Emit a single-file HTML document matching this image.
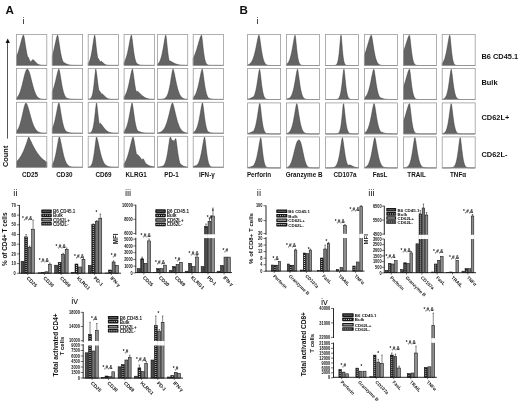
<!DOCTYPE html><html><head><meta charset="utf-8"><style>html,body{margin:0;padding:0;background:#fff;}svg{display:block;font-family:"Liberation Sans", sans-serif;will-change:transform;}</style></head><body>
<svg width="520" height="404" viewBox="0 0 520 404">
<defs></defs>
<rect width="520" height="404" fill="#fff"/>
<text transform="translate(5.60 13.90)" font-size="11.6" font-weight="bold" text-anchor="start" fill="#111">A</text>
<text transform="translate(239.50 13.90)" font-size="11.6" font-weight="bold" text-anchor="start" fill="#111">B</text>
<text transform="translate(22.40 23.80)" font-size="9.3" font-weight="normal" text-anchor="start" fill="#1a1a1a">i</text>
<text transform="translate(256.40 24.20)" font-size="9.3" font-weight="normal" text-anchor="start" fill="#1a1a1a">i</text>
<line x1="7.5" y1="42" x2="7.5" y2="138.6" stroke="#555" stroke-width="1"/>
<path d="M7.7 38.6 L9.9 43.0 L5.6 43.0 Z" fill="#111"/>
<text transform="translate(8.40 167.00) rotate(-90)" font-size="7.4" font-weight="bold" text-anchor="start" fill="#111">Count</text>
<path d="M16.50 65.40 L16.50 56.73 L16.88 55.81 L17.26 54.82 L17.64 53.77 L18.02 52.65 L18.39 51.47 L18.77 50.23 L19.15 48.93 L19.53 47.59 L19.91 46.20 L20.29 44.79 L20.67 43.36 L21.05 41.93 L21.42 40.53 L21.80 39.18 L22.18 37.91 L22.56 36.77 L22.94 35.80 L23.32 35.10 L23.70 35.35 L24.07 36.94 L24.45 39.05 L24.83 41.42 L25.21 43.90 L25.59 46.36 L25.97 48.74 L26.35 50.97 L26.73 53.03 L27.11 54.90 L27.48 56.27 L27.86 56.64 L28.24 57.31 L28.62 58.12 L29.00 58.97 L29.38 59.82 L29.76 60.63 L30.13 61.38 L30.51 62.02 L30.89 61.60 L31.27 61.16 L31.65 60.73 L32.03 60.33 L32.41 59.96 L32.79 59.69 L33.16 59.67 L33.54 59.92 L33.92 60.28 L34.30 60.68 L34.68 61.11 L35.06 61.54 L35.44 61.97 L35.82 62.37 L36.20 62.76 L36.57 63.11 L36.95 63.43 L37.33 63.72 L37.71 63.98 L38.09 64.20 L38.47 64.40 L38.85 64.57 L39.23 64.71 L39.60 64.84 L39.98 64.94 L40.36 65.03 L40.74 65.10 L41.12 65.16 L41.50 65.21 L41.88 65.25 L42.26 65.28 L42.63 65.30 L43.01 65.33 L43.39 65.34 L43.77 65.35 L44.15 65.37 L44.53 65.37 L44.91 65.38 L45.29 65.38 L45.66 65.39 L46.04 65.39 L46.42 65.39 L46.80 65.39 L46.80 65.40 Z" fill="#646464" stroke="#2e2e2e" stroke-width="0.45"/>
<rect x="16.50" y="34.40" width="30.30" height="31.00" fill="none" stroke="#9c9c9c" stroke-width="0.8"/>
<path d="M52.30 65.40 L52.30 55.87 L52.68 54.63 L53.06 53.30 L53.44 51.86 L53.81 50.32 L54.19 48.70 L54.57 47.01 L54.95 45.26 L55.33 43.49 L55.71 41.72 L56.09 40.00 L56.47 38.38 L56.84 36.93 L57.22 35.75 L57.60 35.10 L57.98 36.26 L58.36 38.26 L58.74 40.64 L59.12 43.19 L59.50 45.77 L59.88 48.27 L60.25 50.63 L60.63 52.81 L61.01 54.77 L61.39 56.51 L61.77 58.04 L62.15 59.36 L62.53 60.48 L62.91 61.43 L63.28 62.12 L63.66 62.32 L64.04 62.54 L64.42 62.77 L64.80 62.99 L65.18 63.22 L65.56 63.43 L65.94 63.64 L66.31 63.83 L66.69 64.01 L67.07 64.18 L67.45 64.33 L67.83 64.46 L68.21 64.59 L68.59 64.70 L68.97 64.80 L69.34 64.88 L69.72 64.96 L70.10 65.03 L70.48 65.08 L70.86 65.13 L71.24 65.18 L71.62 65.21 L72.00 65.24 L72.37 65.27 L72.75 65.29 L73.13 65.31 L73.51 65.33 L73.89 65.34 L74.27 65.35 L74.65 65.36 L75.03 65.37 L75.40 65.37 L75.78 65.38 L76.16 65.38 L76.54 65.39 L76.92 65.39 L77.30 65.39 L77.68 65.39 L78.06 65.39 L78.43 65.40 L78.81 65.40 L79.19 65.40 L79.57 65.40 L79.95 65.40 L80.33 65.40 L80.71 65.40 L81.09 65.40 L81.46 65.40 L81.84 65.40 L82.22 65.40 L82.60 65.40 L82.60 65.40 Z" fill="#646464" stroke="#2e2e2e" stroke-width="0.45"/>
<rect x="52.30" y="34.40" width="30.30" height="31.00" fill="none" stroke="#9c9c9c" stroke-width="0.8"/>
<path d="M88.20 65.40 L88.20 63.47 L88.58 62.95 L88.96 62.32 L89.34 61.55 L89.72 60.63 L90.09 59.53 L90.47 58.24 L90.85 56.74 L91.23 55.03 L91.61 53.10 L91.99 50.95 L92.37 48.61 L92.75 46.12 L93.12 43.54 L93.50 40.97 L93.88 38.54 L94.26 36.46 L94.64 35.10 L95.02 36.45 L95.40 39.40 L95.78 42.87 L96.15 46.41 L96.53 49.78 L96.91 52.82 L97.29 55.46 L97.67 57.69 L98.05 58.10 L98.43 58.66 L98.81 59.32 L99.18 60.03 L99.56 60.74 L99.94 61.41 L100.32 61.77 L100.70 61.43 L101.08 61.18 L101.46 61.25 L101.84 61.54 L102.21 61.90 L102.59 62.30 L102.97 62.69 L103.35 63.08 L103.73 63.43 L104.11 63.76 L104.49 64.04 L104.87 64.29 L105.24 64.51 L105.62 64.69 L106.00 64.83 L106.38 64.96 L106.76 65.06 L107.14 65.13 L107.52 65.20 L107.90 65.25 L108.27 65.28 L108.65 65.31 L109.03 65.34 L109.41 65.35 L109.79 65.37 L110.17 65.38 L110.55 65.38 L110.93 65.39 L111.30 65.39 L111.68 65.39 L112.06 65.40 L112.44 65.40 L112.82 65.40 L113.20 65.40 L113.58 65.40 L113.96 65.40 L114.33 65.40 L114.71 65.40 L115.09 65.40 L115.47 65.40 L115.85 65.40 L116.23 65.40 L116.61 65.40 L116.99 65.40 L117.36 65.40 L117.74 65.40 L118.12 65.40 L118.50 65.40 L118.50 65.40 Z" fill="#646464" stroke="#2e2e2e" stroke-width="0.45"/>
<rect x="88.20" y="34.40" width="30.30" height="31.00" fill="none" stroke="#9c9c9c" stroke-width="0.8"/>
<path d="M124.10 65.40 L124.10 62.30 L124.48 61.71 L124.86 61.02 L125.24 60.23 L125.61 59.33 L125.99 58.30 L126.37 57.15 L126.75 55.87 L127.13 54.45 L127.51 52.89 L127.89 51.21 L128.27 49.40 L128.64 47.49 L129.02 45.50 L129.40 43.46 L129.78 41.44 L130.16 39.48 L130.54 37.67 L130.92 36.14 L131.30 35.10 L131.67 35.95 L132.05 38.39 L132.43 41.37 L132.81 44.53 L133.19 47.64 L133.57 50.56 L133.95 53.20 L134.33 55.52 L134.70 57.51 L135.08 59.19 L135.46 60.57 L135.84 61.69 L136.22 62.58 L136.60 63.26 L136.98 63.54 L137.36 63.81 L137.73 64.06 L138.11 64.29 L138.49 64.48 L138.87 64.65 L139.25 64.80 L139.63 64.92 L140.01 65.02 L140.39 65.10 L140.76 65.17 L141.14 65.22 L141.52 65.27 L141.90 65.30 L142.28 65.32 L142.66 65.34 L143.04 65.36 L143.42 65.37 L143.79 65.38 L144.17 65.38 L144.55 65.39 L144.93 65.39 L145.31 65.39 L145.69 65.40 L146.07 65.40 L146.45 65.40 L146.82 65.40 L147.20 65.40 L147.58 65.40 L147.96 65.40 L148.34 65.40 L148.72 65.40 L149.10 65.40 L149.48 65.40 L149.85 65.40 L150.23 65.40 L150.61 65.40 L150.99 65.40 L151.37 65.40 L151.75 65.40 L152.13 65.40 L152.51 65.40 L152.88 65.40 L153.26 65.40 L153.64 65.40 L154.02 65.40 L154.40 65.40 L154.40 65.40 Z" fill="#646464" stroke="#2e2e2e" stroke-width="0.45"/>
<rect x="124.10" y="34.40" width="30.30" height="31.00" fill="none" stroke="#9c9c9c" stroke-width="0.8"/>
<path d="M157.40 65.40 L157.40 64.33 L157.78 64.06 L158.16 63.73 L158.54 63.33 L158.91 62.86 L159.29 62.29 L159.67 61.61 L160.05 60.82 L160.43 59.90 L160.81 58.83 L161.19 57.60 L161.57 56.21 L161.94 54.65 L162.32 52.92 L162.70 51.03 L163.08 48.98 L163.46 46.82 L163.84 44.57 L164.22 42.29 L164.60 40.06 L164.97 38.00 L165.35 36.24 L165.73 35.10 L166.11 36.55 L166.49 39.76 L166.87 43.48 L167.25 47.24 L167.63 50.75 L168.00 53.85 L168.38 56.49 L168.76 58.66 L169.14 60.40 L169.52 60.86 L169.90 60.95 L170.28 61.09 L170.66 61.26 L171.03 61.45 L171.41 61.65 L171.79 61.86 L172.17 62.07 L172.55 62.28 L172.93 62.49 L173.31 62.70 L173.69 62.90 L174.06 63.10 L174.44 63.29 L174.82 63.47 L175.20 63.63 L175.58 63.79 L175.96 63.94 L176.34 64.08 L176.72 64.21 L177.09 64.33 L177.47 64.44 L177.85 64.54 L178.23 64.63 L178.61 64.72 L178.99 64.79 L179.37 64.86 L179.75 64.92 L180.12 64.98 L180.50 65.03 L180.88 65.07 L181.26 65.11 L181.64 65.15 L182.02 65.18 L182.40 65.21 L182.78 65.23 L183.16 65.26 L183.53 65.28 L183.91 65.29 L184.29 65.31 L184.67 65.32 L185.05 65.33 L185.43 65.34 L185.81 65.35 L186.19 65.36 L186.56 65.36 L186.94 65.37 L187.32 65.37 L187.70 65.38 L187.70 65.40 Z" fill="#646464" stroke="#2e2e2e" stroke-width="0.45"/>
<rect x="157.40" y="34.40" width="30.30" height="31.00" fill="none" stroke="#9c9c9c" stroke-width="0.8"/>
<path d="M193.20 65.40 L193.20 58.32 L193.58 57.58 L193.96 56.80 L194.34 55.95 L194.71 55.05 L195.09 54.09 L195.47 53.07 L195.85 51.99 L196.23 50.86 L196.61 49.69 L196.99 48.46 L197.37 47.20 L197.74 45.91 L198.12 44.59 L198.50 43.27 L198.88 41.95 L199.26 40.65 L199.64 39.40 L200.02 38.21 L200.40 37.12 L200.77 36.17 L201.15 35.43 L201.53 35.10 L201.91 37.12 L202.29 40.26 L202.67 43.77 L203.05 47.29 L203.43 50.58 L203.80 53.52 L204.18 56.06 L204.56 58.19 L204.94 59.92 L205.32 61.30 L205.70 62.38 L206.08 63.20 L206.46 63.82 L206.83 64.28 L207.21 64.62 L207.59 64.86 L207.97 65.03 L208.35 65.15 L208.73 65.23 L209.11 65.29 L209.49 65.33 L209.86 65.35 L210.24 65.37 L210.62 65.38 L211.00 65.39 L211.38 65.39 L211.76 65.40 L212.14 65.40 L212.52 65.40 L212.89 65.40 L213.27 65.40 L213.65 65.40 L214.03 65.40 L214.41 65.40 L214.79 65.40 L215.17 65.40 L215.55 65.40 L215.92 65.40 L216.30 65.40 L216.68 65.40 L217.06 65.40 L217.44 65.40 L217.82 65.40 L218.20 65.40 L218.58 65.40 L218.95 65.40 L219.33 65.40 L219.71 65.40 L220.09 65.40 L220.47 65.40 L220.85 65.40 L221.23 65.40 L221.61 65.40 L221.98 65.40 L222.36 65.40 L222.74 65.40 L223.12 65.40 L223.50 65.40 L223.50 65.40 Z" fill="#646464" stroke="#2e2e2e" stroke-width="0.45"/>
<rect x="193.20" y="34.40" width="30.30" height="31.00" fill="none" stroke="#9c9c9c" stroke-width="0.8"/>
<path d="M16.50 99.40 L16.50 97.97 L16.88 97.66 L17.26 97.28 L17.64 96.85 L18.02 96.34 L18.39 95.76 L18.77 95.09 L19.15 94.34 L19.53 93.49 L19.91 92.55 L20.29 91.50 L20.67 90.37 L21.05 89.13 L21.42 87.81 L21.80 86.40 L22.18 84.93 L22.56 83.40 L22.94 81.83 L23.32 80.24 L23.70 78.65 L24.07 77.10 L24.45 75.60 L24.83 74.19 L25.21 72.89 L25.59 71.73 L25.97 70.75 L26.35 69.97 L26.73 69.41 L27.11 69.11 L27.48 69.10 L27.86 69.37 L28.24 69.88 L28.62 70.59 L29.00 71.49 L29.38 72.55 L29.76 73.75 L30.13 75.07 L30.51 76.47 L30.89 77.93 L31.27 79.43 L31.65 80.95 L32.03 82.46 L32.41 83.95 L32.79 85.39 L33.16 86.78 L33.54 88.11 L33.92 89.35 L34.30 90.52 L34.68 91.60 L35.06 92.58 L35.44 93.48 L35.82 94.30 L36.20 95.02 L36.57 95.67 L36.95 96.24 L37.33 96.74 L37.71 97.17 L38.09 97.54 L38.47 97.86 L38.85 98.14 L39.23 98.37 L39.60 98.56 L39.98 98.72 L40.36 98.85 L40.74 98.96 L41.12 99.05 L41.50 99.13 L41.88 99.18 L42.26 99.23 L42.63 99.27 L43.01 99.30 L43.39 99.32 L43.77 99.34 L44.15 99.36 L44.53 99.37 L44.91 99.37 L45.29 99.38 L45.66 99.39 L46.04 99.39 L46.42 99.39 L46.80 99.39 L46.80 99.40 Z" fill="#646464" stroke="#2e2e2e" stroke-width="0.45"/>
<rect x="16.50" y="68.40" width="30.30" height="31.00" fill="none" stroke="#9c9c9c" stroke-width="0.8"/>
<path d="M52.30 99.40 L52.30 91.92 L52.68 90.98 L53.06 89.95 L53.44 88.83 L53.81 87.62 L54.19 86.33 L54.57 84.95 L54.95 83.50 L55.33 81.98 L55.71 80.41 L56.09 78.79 L56.47 77.16 L56.84 75.53 L57.22 73.95 L57.60 72.45 L57.98 71.08 L58.36 69.92 L58.74 69.10 L59.12 69.38 L59.50 70.92 L59.88 72.93 L60.25 75.19 L60.63 77.56 L61.01 79.93 L61.39 82.23 L61.77 84.41 L62.15 86.43 L62.53 88.28 L62.91 89.94 L63.28 91.42 L63.66 92.71 L64.04 93.84 L64.42 94.81 L64.80 95.63 L65.18 96.33 L65.56 96.91 L65.94 97.40 L66.31 97.80 L66.69 98.13 L67.07 98.27 L67.45 98.39 L67.83 98.51 L68.21 98.62 L68.59 98.71 L68.97 98.80 L69.34 98.88 L69.72 98.95 L70.10 99.02 L70.48 99.07 L70.86 99.12 L71.24 99.16 L71.62 99.20 L72.00 99.23 L72.37 99.26 L72.75 99.28 L73.13 99.30 L73.51 99.32 L73.89 99.33 L74.27 99.35 L74.65 99.35 L75.03 99.36 L75.40 99.37 L75.78 99.38 L76.16 99.38 L76.54 99.38 L76.92 99.39 L77.30 99.39 L77.68 99.39 L78.06 99.39 L78.43 99.39 L78.81 99.40 L79.19 99.40 L79.57 99.40 L79.95 99.40 L80.33 99.40 L80.71 99.40 L81.09 99.40 L81.46 99.40 L81.84 99.40 L82.22 99.40 L82.60 99.40 L82.60 99.40 Z" fill="#646464" stroke="#2e2e2e" stroke-width="0.45"/>
<rect x="52.30" y="68.40" width="30.30" height="31.00" fill="none" stroke="#9c9c9c" stroke-width="0.8"/>
<path d="M88.20 99.40 L88.20 99.31 L88.58 99.29 L88.96 99.25 L89.34 99.16 L89.72 99.04 L90.09 98.86 L90.47 98.60 L90.85 98.23 L91.23 97.71 L91.61 96.99 L91.99 96.03 L92.37 94.77 L92.75 93.13 L93.12 91.07 L93.50 88.55 L93.88 85.56 L94.26 82.15 L94.64 78.44 L95.02 74.67 L95.40 71.28 L95.78 69.10 L96.15 70.47 L96.53 73.05 L96.91 76.08 L97.29 79.24 L97.67 82.31 L98.05 85.17 L98.43 87.74 L98.81 89.99 L99.18 90.61 L99.56 91.03 L99.94 91.52 L100.32 92.06 L100.70 92.62 L101.08 93.19 L101.46 93.76 L101.84 94.17 L102.21 93.94 L102.59 94.12 L102.97 94.42 L103.35 94.79 L103.73 95.19 L104.11 95.60 L104.49 96.00 L104.87 96.39 L105.24 96.77 L105.62 97.11 L106.00 97.43 L106.38 97.71 L106.76 97.96 L107.14 98.19 L107.52 98.38 L107.90 98.55 L108.27 98.70 L108.65 98.82 L109.03 98.93 L109.41 99.02 L109.79 99.09 L110.17 99.15 L110.55 99.20 L110.93 99.24 L111.30 99.27 L111.68 99.30 L112.06 99.32 L112.44 99.34 L112.82 99.35 L113.20 99.36 L113.58 99.37 L113.96 99.38 L114.33 99.38 L114.71 99.39 L115.09 99.39 L115.47 99.39 L115.85 99.39 L116.23 99.40 L116.61 99.40 L116.99 99.40 L117.36 99.40 L117.74 99.40 L118.12 99.40 L118.50 99.40 L118.50 99.40 Z" fill="#646464" stroke="#2e2e2e" stroke-width="0.45"/>
<rect x="88.20" y="68.40" width="30.30" height="31.00" fill="none" stroke="#9c9c9c" stroke-width="0.8"/>
<path d="M124.10 99.40 L124.10 96.90 L124.48 96.44 L124.86 95.91 L125.24 95.30 L125.61 94.61 L125.99 93.82 L126.37 92.93 L126.75 91.93 L127.13 90.82 L127.51 89.60 L127.89 88.25 L128.27 86.79 L128.64 85.21 L129.02 83.53 L129.40 81.76 L129.78 79.91 L130.16 78.03 L130.54 76.13 L130.92 74.28 L131.30 72.53 L131.67 70.96 L132.05 69.70 L132.43 69.10 L132.81 70.56 L133.19 72.89 L133.57 75.59 L133.95 78.43 L134.33 81.24 L134.70 83.90 L135.08 86.35 L135.46 88.55 L135.84 90.48 L136.22 91.89 L136.60 91.51 L136.98 91.25 L137.36 91.28 L137.73 91.49 L138.11 91.76 L138.49 92.07 L138.87 92.42 L139.25 92.79 L139.63 93.16 L140.01 93.55 L140.39 93.93 L140.76 94.31 L141.14 94.68 L141.52 95.04 L141.90 95.39 L142.28 95.72 L142.66 96.03 L143.04 96.33 L143.42 96.61 L143.79 96.87 L144.17 97.11 L144.55 97.34 L144.93 97.55 L145.31 97.74 L145.69 97.91 L146.07 98.07 L146.45 98.22 L146.82 98.35 L147.20 98.47 L147.58 98.58 L147.96 98.68 L148.34 98.76 L148.72 98.84 L149.10 98.91 L149.48 98.97 L149.85 99.03 L150.23 99.08 L150.61 99.12 L150.99 99.16 L151.37 99.19 L151.75 99.22 L152.13 99.24 L152.51 99.26 L152.88 99.28 L153.26 99.30 L153.64 99.31 L154.02 99.33 L154.40 99.34 L154.40 99.40 Z" fill="#646464" stroke="#2e2e2e" stroke-width="0.45"/>
<rect x="124.10" y="68.40" width="30.30" height="31.00" fill="none" stroke="#9c9c9c" stroke-width="0.8"/>
<path d="M157.40 99.40 L157.40 99.40 L157.78 99.39 L158.16 99.39 L158.54 99.39 L158.91 99.39 L159.29 99.38 L159.67 99.37 L160.05 99.37 L160.43 99.35 L160.81 99.34 L161.19 99.32 L161.57 99.29 L161.94 99.26 L162.32 99.21 L162.70 99.16 L163.08 99.08 L163.46 98.99 L163.84 98.87 L164.22 98.72 L164.60 98.53 L164.97 98.30 L165.35 98.01 L165.73 97.66 L166.11 97.23 L166.49 96.71 L166.87 96.08 L167.25 95.34 L167.63 94.47 L168.00 93.44 L168.38 92.25 L168.76 90.89 L169.14 89.35 L169.52 87.62 L169.90 85.71 L170.28 83.63 L170.66 81.40 L171.03 79.07 L171.41 76.70 L171.79 74.36 L172.17 72.18 L172.55 70.33 L172.93 69.10 L173.31 69.55 L173.69 70.77 L174.06 72.31 L174.44 74.05 L174.82 75.90 L175.20 77.80 L175.58 79.69 L175.96 81.54 L176.34 83.32 L176.72 85.02 L177.09 86.61 L177.47 88.09 L177.85 89.45 L178.23 90.69 L178.61 91.81 L178.99 92.82 L179.37 93.72 L179.75 94.52 L180.12 95.23 L180.50 95.85 L180.88 96.39 L181.26 96.85 L181.64 97.26 L182.02 97.60 L182.40 97.90 L182.78 98.15 L183.16 98.36 L183.53 98.54 L183.91 98.70 L184.29 98.82 L184.67 98.93 L185.05 99.01 L185.43 99.09 L185.81 99.15 L186.19 99.20 L186.56 99.24 L186.94 99.27 L187.32 99.29 L187.70 99.32 L187.70 99.40 Z" fill="#646464" stroke="#2e2e2e" stroke-width="0.45"/>
<rect x="157.40" y="68.40" width="30.30" height="31.00" fill="none" stroke="#9c9c9c" stroke-width="0.8"/>
<path d="M193.20 99.40 L193.20 97.58 L193.58 97.23 L193.96 96.83 L194.34 96.35 L194.71 95.81 L195.09 95.19 L195.47 94.47 L195.85 93.67 L196.23 92.76 L196.61 91.74 L196.99 90.61 L197.37 89.36 L197.74 87.99 L198.12 86.50 L198.50 84.90 L198.88 83.20 L199.26 81.41 L199.64 79.55 L200.02 77.65 L200.40 75.75 L200.77 73.90 L201.15 72.16 L201.53 70.63 L201.91 69.43 L202.29 69.10 L202.67 70.76 L203.05 73.18 L203.43 75.93 L203.80 78.78 L204.18 81.58 L204.56 84.22 L204.94 86.65 L205.32 88.82 L205.70 90.72 L206.08 92.36 L206.46 93.75 L206.83 94.91 L207.21 95.86 L207.59 96.64 L207.97 97.27 L208.35 97.77 L208.73 98.16 L209.11 98.34 L209.49 98.50 L209.86 98.64 L210.24 98.76 L210.62 98.86 L211.00 98.95 L211.38 99.03 L211.76 99.10 L212.14 99.15 L212.52 99.20 L212.89 99.24 L213.27 99.27 L213.65 99.30 L214.03 99.32 L214.41 99.33 L214.79 99.35 L215.17 99.36 L215.55 99.37 L215.92 99.38 L216.30 99.38 L216.68 99.39 L217.06 99.39 L217.44 99.39 L217.82 99.39 L218.20 99.40 L218.58 99.40 L218.95 99.40 L219.33 99.40 L219.71 99.40 L220.09 99.40 L220.47 99.40 L220.85 99.40 L221.23 99.40 L221.61 99.40 L221.98 99.40 L222.36 99.40 L222.74 99.40 L223.12 99.40 L223.50 99.40 L223.50 99.40 Z" fill="#646464" stroke="#2e2e2e" stroke-width="0.45"/>
<rect x="193.20" y="68.40" width="30.30" height="31.00" fill="none" stroke="#9c9c9c" stroke-width="0.8"/>
<path d="M16.50 133.30 L16.50 131.23 L16.88 130.82 L17.26 130.34 L17.64 129.79 L18.02 129.16 L18.39 128.44 L18.77 127.63 L19.15 126.73 L19.53 125.71 L19.91 124.60 L20.29 123.38 L20.67 122.06 L21.05 120.64 L21.42 119.13 L21.80 117.54 L22.18 115.90 L22.56 114.21 L22.94 112.50 L23.32 110.81 L23.70 109.17 L24.07 107.61 L24.45 106.18 L24.83 104.94 L25.21 103.93 L25.59 103.23 L25.97 103.00 L26.35 103.31 L26.73 103.90 L27.11 104.70 L27.48 105.66 L27.86 106.76 L28.24 107.97 L28.62 109.26 L29.00 110.60 L29.38 111.98 L29.76 113.38 L30.13 114.77 L30.51 116.14 L30.89 117.49 L31.27 118.79 L31.65 120.05 L32.03 121.25 L32.41 122.38 L32.79 123.45 L33.16 124.45 L33.54 125.38 L33.92 126.24 L34.30 127.04 L34.68 127.76 L35.06 128.42 L35.44 129.01 L35.82 129.55 L36.20 130.03 L36.57 130.46 L36.95 130.84 L37.33 131.18 L37.71 131.48 L38.09 131.74 L38.47 131.97 L38.85 132.17 L39.23 132.34 L39.60 132.49 L39.98 132.62 L40.36 132.73 L40.74 132.82 L41.12 132.90 L41.50 132.97 L41.88 133.02 L42.26 133.07 L42.63 133.11 L43.01 133.15 L43.39 133.17 L43.77 133.20 L44.15 133.22 L44.53 133.23 L44.91 133.25 L45.29 133.26 L45.66 133.26 L46.04 133.27 L46.42 133.28 L46.80 133.28 L46.80 133.30 Z" fill="#646464" stroke="#2e2e2e" stroke-width="0.45"/>
<rect x="16.50" y="102.30" width="30.30" height="31.00" fill="none" stroke="#9c9c9c" stroke-width="0.8"/>
<path d="M52.30 133.30 L52.30 128.56 L52.68 127.75 L53.06 126.83 L53.44 125.80 L53.81 124.64 L54.19 123.36 L54.57 121.95 L54.95 120.41 L55.33 118.76 L55.71 116.99 L56.09 115.12 L56.47 113.19 L56.84 111.22 L57.22 109.26 L57.60 107.36 L57.98 105.60 L58.36 104.09 L58.74 103.00 L59.12 103.23 L59.50 104.77 L59.88 106.78 L60.25 109.05 L60.63 111.42 L61.01 113.80 L61.39 116.10 L61.77 118.28 L62.15 120.31 L62.53 122.16 L62.91 123.82 L63.28 125.30 L63.66 126.60 L64.04 127.73 L64.42 128.70 L64.80 129.53 L65.18 130.23 L65.56 130.81 L65.94 131.30 L66.31 131.53 L66.69 131.71 L67.07 131.88 L67.45 132.04 L67.83 132.18 L68.21 132.32 L68.59 132.44 L68.97 132.55 L69.34 132.65 L69.72 132.74 L70.10 132.82 L70.48 132.89 L70.86 132.95 L71.24 133.00 L71.62 133.05 L72.00 133.09 L72.37 133.12 L72.75 133.15 L73.13 133.18 L73.51 133.20 L73.89 133.22 L74.27 133.23 L74.65 133.24 L75.03 133.25 L75.40 133.26 L75.78 133.27 L76.16 133.28 L76.54 133.28 L76.92 133.28 L77.30 133.29 L77.68 133.29 L78.06 133.29 L78.43 133.29 L78.81 133.29 L79.19 133.30 L79.57 133.30 L79.95 133.30 L80.33 133.30 L80.71 133.30 L81.09 133.30 L81.46 133.30 L81.84 133.30 L82.22 133.30 L82.60 133.30 L82.60 133.30 Z" fill="#646464" stroke="#2e2e2e" stroke-width="0.45"/>
<rect x="52.30" y="102.30" width="30.30" height="31.00" fill="none" stroke="#9c9c9c" stroke-width="0.8"/>
<path d="M88.20 133.30 L88.20 133.17 L88.58 133.14 L88.96 133.10 L89.34 133.06 L89.72 133.01 L90.09 132.91 L90.47 132.73 L90.85 132.47 L91.23 132.12 L91.61 131.63 L91.99 130.98 L92.37 130.11 L92.75 128.99 L93.12 127.55 L93.50 125.75 L93.88 123.56 L94.26 120.95 L94.64 117.94 L95.02 114.59 L95.40 111.06 L95.78 107.58 L96.15 104.57 L96.53 103.00 L96.91 105.02 L97.29 108.16 L97.67 111.67 L98.05 115.19 L98.43 118.48 L98.81 121.42 L99.18 123.96 L99.56 123.80 L99.94 123.42 L100.32 123.32 L100.70 123.57 L101.08 123.94 L101.46 124.39 L101.84 124.88 L102.21 125.40 L102.59 125.93 L102.97 126.47 L103.35 127.00 L103.73 127.52 L104.11 128.02 L104.49 128.50 L104.87 128.95 L105.24 129.38 L105.62 129.78 L106.00 130.15 L106.38 130.50 L106.76 130.81 L107.14 131.10 L107.52 131.36 L107.90 131.59 L108.27 131.80 L108.65 131.99 L109.03 132.16 L109.41 132.31 L109.79 132.44 L110.17 132.56 L110.55 132.66 L110.93 132.75 L111.30 132.83 L111.68 132.90 L112.06 132.96 L112.44 133.01 L112.82 133.06 L113.20 133.09 L113.58 133.13 L113.96 133.15 L114.33 133.18 L114.71 133.20 L115.09 133.21 L115.47 133.23 L115.85 133.24 L116.23 133.25 L116.61 133.26 L116.99 133.27 L117.36 133.27 L117.74 133.28 L118.12 133.28 L118.50 133.28 L118.50 133.30 Z" fill="#646464" stroke="#2e2e2e" stroke-width="0.45"/>
<rect x="88.20" y="102.30" width="30.30" height="31.00" fill="none" stroke="#9c9c9c" stroke-width="0.8"/>
<path d="M124.10 133.30 L124.10 131.39 L124.48 130.99 L124.86 130.50 L125.24 129.94 L125.61 129.27 L125.99 128.51 L126.37 127.62 L126.75 126.62 L127.13 125.47 L127.51 124.19 L127.89 122.76 L128.27 121.19 L128.64 119.47 L129.02 117.62 L129.40 115.65 L129.78 113.60 L130.16 111.50 L130.54 109.40 L130.92 107.38 L131.30 105.52 L131.67 103.97 L132.05 103.00 L132.43 104.06 L132.81 106.26 L133.19 108.91 L133.57 111.74 L133.95 114.56 L134.33 117.26 L134.70 119.76 L135.08 122.01 L135.46 124.00 L135.84 125.73 L136.22 127.20 L136.60 128.44 L136.98 129.46 L137.36 130.29 L137.73 130.97 L138.11 131.12 L138.49 131.26 L138.87 131.40 L139.25 131.55 L139.63 131.71 L140.01 131.85 L140.39 132.00 L140.76 132.13 L141.14 132.26 L141.52 132.38 L141.90 132.49 L142.28 132.59 L142.66 132.68 L143.04 132.76 L143.42 132.84 L143.79 132.90 L144.17 132.96 L144.55 133.01 L144.93 133.05 L145.31 133.09 L145.69 133.12 L146.07 133.15 L146.45 133.18 L146.82 133.20 L147.20 133.22 L147.58 133.23 L147.96 133.24 L148.34 133.25 L148.72 133.26 L149.10 133.27 L149.48 133.27 L149.85 133.28 L150.23 133.28 L150.61 133.29 L150.99 133.29 L151.37 133.29 L151.75 133.29 L152.13 133.29 L152.51 133.30 L152.88 133.30 L153.26 133.30 L153.64 133.30 L154.02 133.30 L154.40 133.30 L154.40 133.30 Z" fill="#646464" stroke="#2e2e2e" stroke-width="0.45"/>
<rect x="124.10" y="102.30" width="30.30" height="31.00" fill="none" stroke="#9c9c9c" stroke-width="0.8"/>
<path d="M157.40 133.30 L157.40 133.00 L157.78 132.94 L158.16 132.87 L158.54 132.80 L158.91 132.70 L159.29 132.60 L159.67 132.47 L160.05 132.33 L160.43 132.17 L160.81 131.98 L161.19 131.76 L161.57 131.51 L161.94 131.22 L162.32 130.90 L162.70 130.53 L163.08 130.12 L163.46 129.66 L163.84 129.14 L164.22 128.56 L164.60 127.91 L164.97 127.20 L165.35 126.41 L165.73 125.54 L166.11 124.60 L166.49 123.57 L166.87 122.47 L167.25 121.28 L167.63 120.00 L168.00 118.65 L168.38 117.23 L168.76 115.75 L169.14 114.22 L169.52 112.65 L169.90 111.06 L170.28 109.48 L170.66 107.94 L171.03 106.48 L171.41 105.13 L171.79 103.98 L172.17 103.12 L172.55 103.00 L172.93 103.81 L173.31 104.96 L173.69 106.32 L174.06 107.82 L174.44 109.40 L174.82 111.02 L175.20 112.65 L175.58 114.27 L175.96 115.84 L176.34 117.36 L176.72 118.82 L177.09 120.19 L177.47 121.49 L177.85 122.70 L178.23 123.82 L178.61 124.85 L178.99 125.80 L179.37 126.67 L179.75 127.45 L180.12 128.16 L180.50 128.80 L180.88 129.37 L181.26 129.88 L181.64 130.33 L182.02 130.73 L182.40 131.08 L182.78 131.39 L183.16 131.66 L183.53 131.90 L183.91 132.10 L184.29 132.28 L184.67 132.44 L185.05 132.57 L185.43 132.68 L185.81 132.78 L186.19 132.86 L186.56 132.93 L186.94 132.99 L187.32 133.04 L187.70 133.09 L187.70 133.30 Z" fill="#646464" stroke="#2e2e2e" stroke-width="0.45"/>
<rect x="157.40" y="102.30" width="30.30" height="31.00" fill="none" stroke="#9c9c9c" stroke-width="0.8"/>
<path d="M193.20 133.30 L193.20 132.52 L193.58 132.32 L193.96 132.09 L194.34 131.80 L194.71 131.45 L195.09 131.04 L195.47 130.55 L195.85 129.96 L196.23 129.28 L196.61 128.48 L196.99 127.55 L197.37 126.49 L197.74 125.28 L198.12 123.92 L198.50 122.39 L198.88 120.71 L199.26 118.88 L199.64 116.90 L200.02 114.81 L200.40 112.63 L200.77 110.42 L201.15 108.24 L201.53 106.18 L201.91 104.36 L202.29 103.00 L202.67 103.09 L203.05 105.29 L203.43 108.19 L203.80 111.35 L204.18 114.52 L204.56 117.53 L204.94 120.28 L205.32 122.71 L205.70 124.81 L206.08 126.59 L206.46 128.06 L206.83 129.26 L207.21 130.22 L207.59 130.98 L207.97 131.57 L208.35 131.88 L208.73 132.06 L209.11 132.24 L209.49 132.39 L209.86 132.53 L210.24 132.65 L210.62 132.76 L211.00 132.85 L211.38 132.93 L211.76 132.99 L212.14 133.05 L212.52 133.10 L212.89 133.14 L213.27 133.17 L213.65 133.19 L214.03 133.22 L214.41 133.23 L214.79 133.25 L215.17 133.26 L215.55 133.27 L215.92 133.28 L216.30 133.28 L216.68 133.29 L217.06 133.29 L217.44 133.29 L217.82 133.29 L218.20 133.30 L218.58 133.30 L218.95 133.30 L219.33 133.30 L219.71 133.30 L220.09 133.30 L220.47 133.30 L220.85 133.30 L221.23 133.30 L221.61 133.30 L221.98 133.30 L222.36 133.30 L222.74 133.30 L223.12 133.30 L223.50 133.30 L223.50 133.30 Z" fill="#646464" stroke="#2e2e2e" stroke-width="0.45"/>
<rect x="193.20" y="102.30" width="30.30" height="31.00" fill="none" stroke="#9c9c9c" stroke-width="0.8"/>
<path d="M16.50 167.30 L16.50 161.62 L16.88 161.27 L17.26 160.90 L17.64 160.51 L18.02 160.10 L18.39 159.66 L18.77 159.20 L19.15 158.72 L19.53 158.21 L19.91 157.68 L20.29 157.11 L20.67 156.52 L21.05 155.90 L21.42 155.25 L21.80 154.56 L22.18 153.84 L22.56 153.09 L22.94 152.31 L23.32 151.48 L23.70 150.63 L24.07 149.74 L24.45 148.81 L24.83 147.84 L25.21 146.84 L25.59 145.81 L25.97 144.74 L26.35 143.65 L26.73 142.53 L27.11 141.39 L27.48 140.25 L27.86 139.10 L28.24 138.00 L28.62 137.00 L29.00 137.32 L29.38 138.05 L29.76 138.83 L30.13 139.63 L30.51 140.44 L30.89 141.25 L31.27 142.06 L31.65 142.85 L32.03 143.64 L32.41 144.42 L32.79 145.18 L33.16 145.93 L33.54 146.66 L33.92 147.37 L34.30 148.07 L34.68 148.74 L35.06 149.41 L35.44 150.05 L35.82 150.67 L36.20 151.28 L36.57 151.87 L36.95 152.44 L37.33 153.00 L37.71 153.53 L38.09 154.05 L38.47 154.56 L38.85 155.04 L39.23 155.51 L39.60 155.97 L39.98 156.41 L40.36 156.83 L40.74 157.24 L41.12 157.64 L41.50 158.02 L41.88 158.39 L42.26 158.75 L42.63 159.09 L43.01 159.42 L43.39 159.74 L43.77 160.04 L44.15 160.34 L44.53 160.62 L44.91 160.90 L45.29 161.16 L45.66 161.41 L46.04 161.66 L46.42 161.89 L46.80 162.12 L46.80 167.30 Z" fill="#646464" stroke="#2e2e2e" stroke-width="0.45"/>
<rect x="16.50" y="136.30" width="30.30" height="31.00" fill="none" stroke="#9c9c9c" stroke-width="0.8"/>
<path d="M52.30 167.30 L52.30 164.52 L52.68 163.93 L53.06 163.24 L53.44 162.43 L53.81 161.50 L54.19 160.43 L54.57 159.22 L54.95 157.84 L55.33 156.31 L55.71 154.63 L56.09 152.79 L56.47 150.81 L56.84 148.71 L57.22 146.54 L57.60 144.33 L57.98 142.17 L58.36 140.13 L58.74 138.34 L59.12 137.03 L59.50 137.00 L59.88 138.08 L60.25 139.56 L60.63 141.26 L61.01 143.10 L61.39 145.00 L61.77 146.91 L62.15 148.79 L62.53 150.60 L62.91 152.34 L63.28 153.97 L63.66 155.49 L64.04 156.90 L64.42 158.18 L64.80 159.34 L65.18 160.39 L65.56 161.33 L65.94 162.17 L66.31 162.90 L66.69 163.55 L67.07 164.12 L67.45 164.61 L67.83 165.03 L68.21 165.40 L68.59 165.71 L68.97 165.97 L69.34 166.20 L69.72 166.39 L70.10 166.55 L70.48 166.68 L70.86 166.79 L71.24 166.89 L71.62 166.96 L72.00 167.03 L72.37 167.08 L72.75 167.12 L73.13 167.16 L73.51 167.19 L73.89 167.21 L74.27 167.23 L74.65 167.24 L75.03 167.25 L75.40 167.26 L75.78 167.27 L76.16 167.28 L76.54 167.28 L76.92 167.29 L77.30 167.29 L77.68 167.29 L78.06 167.29 L78.43 167.30 L78.81 167.30 L79.19 167.30 L79.57 167.30 L79.95 167.30 L80.33 167.30 L80.71 167.30 L81.09 167.30 L81.46 167.30 L81.84 167.30 L82.22 167.30 L82.60 167.30 L82.60 167.30 Z" fill="#646464" stroke="#2e2e2e" stroke-width="0.45"/>
<rect x="52.30" y="136.30" width="30.30" height="31.00" fill="none" stroke="#9c9c9c" stroke-width="0.8"/>
<path d="M88.20 167.30 L88.20 167.16 L88.58 167.10 L88.96 167.01 L89.34 166.89 L89.72 166.73 L90.09 166.51 L90.47 166.21 L90.85 165.81 L91.23 165.30 L91.61 164.63 L91.99 163.78 L92.37 162.71 L92.75 161.39 L93.12 159.78 L93.50 157.85 L93.88 155.60 L94.26 153.02 L94.64 150.16 L95.02 147.09 L95.40 143.94 L95.78 140.91 L96.15 138.34 L96.53 137.00 L96.91 137.73 L97.29 138.94 L97.67 140.40 L98.05 142.04 L98.43 143.77 L98.81 145.54 L99.18 147.31 L99.56 149.06 L99.94 150.75 L100.32 152.36 L100.70 153.89 L101.08 155.32 L101.46 156.65 L101.84 157.87 L102.21 158.99 L102.59 160.01 L102.97 160.93 L103.35 161.76 L103.73 162.50 L104.11 163.15 L104.49 163.73 L104.87 164.24 L105.24 164.69 L105.62 165.00 L106.00 165.28 L106.38 165.53 L106.76 165.76 L107.14 165.96 L107.52 166.14 L107.90 166.31 L108.27 166.45 L108.65 166.58 L109.03 166.68 L109.41 166.78 L109.79 166.86 L110.17 166.93 L110.55 166.99 L110.93 167.04 L111.30 167.09 L111.68 167.12 L112.06 167.16 L112.44 167.18 L112.82 167.20 L113.20 167.22 L113.58 167.24 L113.96 167.25 L114.33 167.26 L114.71 167.27 L115.09 167.27 L115.47 167.28 L115.85 167.28 L116.23 167.29 L116.61 167.29 L116.99 167.29 L117.36 167.29 L117.74 167.29 L118.12 167.30 L118.50 167.30 L118.50 167.30 Z" fill="#646464" stroke="#2e2e2e" stroke-width="0.45"/>
<rect x="88.20" y="136.30" width="30.30" height="31.00" fill="none" stroke="#9c9c9c" stroke-width="0.8"/>
<path d="M124.10 167.30 L124.10 163.74 L124.48 163.23 L124.86 162.66 L125.24 162.02 L125.61 161.32 L125.99 160.55 L126.37 159.69 L126.75 158.76 L127.13 157.75 L127.51 156.66 L127.89 155.48 L128.27 154.22 L128.64 152.89 L129.02 151.48 L129.40 150.01 L129.78 148.49 L130.16 146.92 L130.54 145.34 L130.92 143.76 L131.30 142.21 L131.67 140.73 L132.05 139.37 L132.43 138.18 L132.81 137.26 L133.19 137.00 L133.57 138.20 L133.95 139.98 L134.33 142.06 L134.70 144.29 L135.08 146.57 L135.46 148.82 L135.84 150.99 L136.22 153.03 L136.60 154.91 L136.98 154.58 L137.36 154.61 L137.73 154.84 L138.11 155.14 L138.49 155.51 L138.87 155.91 L139.25 156.34 L139.63 156.79 L140.01 157.26 L140.39 157.73 L140.76 158.21 L141.14 158.69 L141.52 159.17 L141.90 159.63 L142.28 159.42 L142.66 159.04 L143.04 158.80 L143.42 159.07 L143.79 159.68 L144.17 160.42 L144.55 161.21 L144.93 162.01 L145.31 162.77 L145.69 163.47 L146.07 163.83 L146.45 164.11 L146.82 164.37 L147.20 164.61 L147.58 164.84 L147.96 165.05 L148.34 165.25 L148.72 165.43 L149.10 165.60 L149.48 165.76 L149.85 165.90 L150.23 166.03 L150.61 166.15 L150.99 166.26 L151.37 166.37 L151.75 166.46 L152.13 166.54 L152.51 166.62 L152.88 166.69 L153.26 166.75 L153.64 166.81 L154.02 166.86 L154.40 166.91 L154.40 167.30 Z" fill="#646464" stroke="#2e2e2e" stroke-width="0.45"/>
<rect x="124.10" y="136.30" width="30.30" height="31.00" fill="none" stroke="#9c9c9c" stroke-width="0.8"/>
<path d="M157.40 167.30 L157.40 167.16 L157.78 167.13 L158.16 167.10 L158.54 167.07 L158.91 167.03 L159.29 166.98 L159.67 166.93 L160.05 166.87 L160.43 166.80 L160.81 166.72 L161.19 166.62 L161.57 166.52 L161.94 166.39 L162.32 166.26 L162.70 166.10 L163.08 165.92 L163.46 165.72 L163.84 165.32 L164.22 164.80 L164.60 164.15 L164.97 163.37 L165.35 162.43 L165.73 161.32 L166.11 160.01 L166.49 158.50 L166.87 156.76 L167.25 154.81 L167.63 152.64 L168.00 150.29 L168.38 147.80 L168.76 145.22 L169.14 142.66 L169.52 140.26 L169.90 138.24 L170.28 137.00 L170.66 137.42 L171.03 138.25 L171.41 139.31 L171.79 140.51 L172.17 141.73 L172.55 140.60 L172.93 140.03 L173.31 140.75 L173.69 141.93 L174.06 142.31 L174.44 141.12 L174.82 140.06 L175.20 139.18 L175.58 138.58 L175.96 139.34 L176.34 141.61 L176.72 144.42 L177.09 147.41 L177.47 150.36 L177.85 153.13 L178.23 155.65 L178.61 157.86 L178.99 159.76 L179.37 161.36 L179.75 162.67 L180.12 163.54 L180.50 163.98 L180.88 164.36 L181.26 164.71 L181.64 165.03 L182.02 165.30 L182.40 165.55 L182.78 165.77 L183.16 165.97 L183.53 166.14 L183.91 166.29 L184.29 166.43 L184.67 166.55 L185.05 166.65 L185.43 166.74 L185.81 166.82 L186.19 166.89 L186.56 166.95 L186.94 167.00 L187.32 167.04 L187.70 167.08 L187.70 167.30 Z" fill="#646464" stroke="#2e2e2e" stroke-width="0.45"/>
<rect x="157.40" y="136.30" width="30.30" height="31.00" fill="none" stroke="#9c9c9c" stroke-width="0.8"/>
<path d="M193.20 167.30 L193.20 166.54 L193.58 166.44 L193.96 166.33 L194.34 166.20 L194.71 166.07 L195.09 165.93 L195.47 165.78 L195.85 165.63 L196.23 165.48 L196.61 165.33 L196.99 165.19 L197.37 164.85 L197.74 164.33 L198.12 163.71 L198.50 162.98 L198.88 162.13 L199.26 161.16 L199.64 160.04 L200.02 158.78 L200.40 157.36 L200.77 155.78 L201.15 154.05 L201.53 152.17 L201.91 150.16 L202.29 148.05 L202.67 145.87 L203.05 143.69 L203.43 141.57 L203.80 139.63 L204.18 138.01 L204.56 137.00 L204.94 138.42 L205.32 141.18 L205.70 144.42 L206.08 147.76 L206.46 150.97 L206.83 153.91 L207.21 156.52 L207.59 158.76 L207.97 160.63 L208.35 162.17 L208.73 163.41 L209.11 164.39 L209.49 165.14 L209.86 165.72 L210.24 166.16 L210.62 166.49 L211.00 166.72 L211.38 166.90 L211.76 167.02 L212.14 167.11 L212.52 167.17 L212.89 167.21 L213.27 167.24 L213.65 167.26 L214.03 167.27 L214.41 167.28 L214.79 167.29 L215.17 167.29 L215.55 167.30 L215.92 167.30 L216.30 167.30 L216.68 167.30 L217.06 167.30 L217.44 167.30 L217.82 167.30 L218.20 167.30 L218.58 167.30 L218.95 167.30 L219.33 167.30 L219.71 167.30 L220.09 167.30 L220.47 167.30 L220.85 167.30 L221.23 167.30 L221.61 167.30 L221.98 167.30 L222.36 167.30 L222.74 167.30 L223.12 167.30 L223.50 167.30 L223.50 167.30 Z" fill="#646464" stroke="#2e2e2e" stroke-width="0.45"/>
<rect x="193.20" y="136.30" width="30.30" height="31.00" fill="none" stroke="#9c9c9c" stroke-width="0.8"/>
<path d="M247.60 65.50 L247.60 64.95 L248.01 64.82 L248.42 64.66 L248.84 64.46 L249.25 64.23 L249.66 63.94 L250.07 63.61 L250.49 63.21 L250.90 62.74 L251.31 62.19 L251.72 61.55 L252.14 60.81 L252.55 59.96 L252.96 59.00 L253.38 57.90 L253.79 56.66 L254.20 55.29 L254.61 53.77 L255.03 52.12 L255.44 50.33 L255.85 48.42 L256.26 46.42 L256.68 44.36 L257.09 42.27 L257.50 40.23 L257.91 38.30 L258.32 36.61 L258.74 35.31 L259.15 35.20 L259.56 37.10 L259.98 39.71 L260.39 42.62 L260.80 45.60 L261.21 48.47 L261.62 51.16 L262.04 53.59 L262.45 55.73 L262.86 57.59 L263.27 59.17 L263.69 60.49 L264.10 61.57 L264.51 62.45 L264.93 63.16 L265.34 63.72 L265.75 64.16 L266.16 64.50 L266.57 64.76 L266.99 64.95 L267.40 65.10 L267.81 65.21 L268.23 65.29 L268.64 65.35 L269.05 65.40 L269.46 65.43 L269.88 65.45 L270.29 65.46 L270.70 65.48 L271.11 65.48 L271.52 65.49 L271.94 65.49 L272.35 65.49 L272.76 65.50 L273.18 65.50 L273.59 65.50 L274.00 65.50 L274.41 65.50 L274.82 65.50 L275.24 65.50 L275.65 65.50 L276.06 65.50 L276.48 65.50 L276.89 65.50 L277.30 65.50 L277.71 65.50 L278.12 65.50 L278.54 65.50 L278.95 65.50 L279.36 65.50 L279.77 65.50 L280.19 65.50 L280.60 65.50 L280.60 65.50 Z" fill="#646464" stroke="#2e2e2e" stroke-width="0.45"/>
<rect x="247.60" y="34.50" width="33.00" height="31.00" fill="none" stroke="#9c9c9c" stroke-width="0.8"/>
<path d="M286.40 65.50 L286.40 64.40 L286.81 64.12 L287.22 63.76 L287.64 63.33 L288.05 62.81 L288.46 62.18 L288.88 61.44 L289.29 60.55 L289.70 59.52 L290.11 58.32 L290.52 56.95 L290.94 55.39 L291.35 53.65 L291.76 51.72 L292.17 49.63 L292.59 47.39 L293.00 45.04 L293.41 42.66 L293.82 40.33 L294.24 38.16 L294.65 36.33 L295.06 35.20 L295.47 37.16 L295.89 40.83 L296.30 44.93 L296.71 48.93 L297.12 52.55 L297.54 55.64 L297.95 58.18 L298.36 60.18 L298.77 61.71 L299.19 62.86 L299.60 63.69 L300.01 64.28 L300.42 64.69 L300.84 64.98 L301.25 65.16 L301.66 65.29 L302.07 65.37 L302.49 65.42 L302.90 65.45 L303.31 65.47 L303.72 65.48 L304.14 65.49 L304.55 65.49 L304.96 65.50 L305.38 65.50 L305.79 65.50 L306.20 65.50 L306.61 65.50 L307.02 65.50 L307.44 65.50 L307.85 65.50 L308.26 65.50 L308.67 65.50 L309.09 65.50 L309.50 65.50 L309.91 65.50 L310.32 65.50 L310.74 65.50 L311.15 65.50 L311.56 65.50 L311.97 65.50 L312.39 65.50 L312.80 65.50 L313.21 65.50 L313.62 65.50 L314.04 65.50 L314.45 65.50 L314.86 65.50 L315.27 65.50 L315.69 65.50 L316.10 65.50 L316.51 65.50 L316.92 65.50 L317.34 65.50 L317.75 65.50 L318.16 65.50 L318.57 65.50 L318.99 65.50 L319.40 65.50 L319.40 65.50 Z" fill="#646464" stroke="#2e2e2e" stroke-width="0.45"/>
<rect x="286.40" y="34.50" width="33.00" height="31.00" fill="none" stroke="#9c9c9c" stroke-width="0.8"/>
<path d="M325.50 65.50 L325.50 65.50 L325.91 65.50 L326.32 65.50 L326.74 65.50 L327.15 65.50 L327.56 65.50 L327.98 65.50 L328.39 65.50 L328.80 65.50 L329.21 65.50 L329.62 65.50 L330.04 65.50 L330.45 65.50 L330.86 65.50 L331.27 65.50 L331.69 65.50 L332.10 65.50 L332.51 65.50 L332.93 65.49 L333.34 65.49 L333.75 65.48 L334.16 65.46 L334.57 65.42 L334.99 65.36 L335.40 65.26 L335.81 65.09 L336.23 64.81 L336.64 64.39 L337.05 63.74 L337.46 62.77 L337.88 61.37 L338.29 59.41 L338.70 56.79 L339.11 53.41 L339.52 49.29 L339.94 44.58 L340.35 39.72 L340.76 35.57 L341.18 35.20 L341.59 39.57 L342.00 44.83 L342.41 49.88 L342.82 54.21 L343.24 57.65 L343.65 60.24 L344.06 62.08 L344.48 63.35 L344.89 64.18 L345.30 64.71 L345.71 65.04 L346.12 65.24 L346.54 65.36 L346.95 65.42 L347.36 65.46 L347.77 65.48 L348.19 65.49 L348.60 65.49 L349.01 65.50 L349.43 65.50 L349.84 65.50 L350.25 65.50 L350.66 65.50 L351.07 65.50 L351.49 65.50 L351.90 65.50 L352.31 65.50 L352.73 65.50 L353.14 65.50 L353.55 65.50 L353.96 65.50 L354.38 65.50 L354.79 65.50 L355.20 65.50 L355.61 65.50 L356.02 65.50 L356.44 65.50 L356.85 65.50 L357.26 65.50 L357.68 65.50 L358.09 65.50 L358.50 65.50 L358.50 65.50 Z" fill="#646464" stroke="#2e2e2e" stroke-width="0.45"/>
<rect x="325.50" y="34.50" width="33.00" height="31.00" fill="none" stroke="#9c9c9c" stroke-width="0.8"/>
<path d="M364.40 65.50 L364.40 55.00 L364.81 53.96 L365.22 52.86 L365.64 51.70 L366.05 50.47 L366.46 49.19 L366.88 47.87 L367.29 46.50 L367.70 45.10 L368.11 43.69 L368.52 42.27 L368.94 40.88 L369.35 39.53 L369.76 38.25 L370.17 37.09 L370.59 36.08 L371.00 35.31 L371.41 35.20 L371.82 36.77 L372.24 39.03 L372.65 41.62 L373.06 44.32 L373.47 46.99 L373.89 49.55 L374.30 51.92 L374.71 54.07 L375.12 55.98 L375.54 57.65 L375.95 59.09 L376.36 60.32 L376.77 61.34 L377.19 62.20 L377.60 62.89 L378.01 63.46 L378.42 63.92 L378.84 64.28 L379.25 64.57 L379.66 64.79 L380.07 64.97 L380.49 65.10 L380.90 65.20 L381.31 65.28 L381.72 65.34 L382.14 65.38 L382.55 65.41 L382.96 65.44 L383.38 65.46 L383.79 65.47 L384.20 65.48 L384.61 65.48 L385.02 65.49 L385.44 65.49 L385.85 65.49 L386.26 65.50 L386.67 65.50 L387.09 65.50 L387.50 65.50 L387.91 65.50 L388.32 65.50 L388.74 65.50 L389.15 65.50 L389.56 65.50 L389.97 65.50 L390.39 65.50 L390.80 65.50 L391.21 65.50 L391.62 65.50 L392.04 65.50 L392.45 65.50 L392.86 65.50 L393.27 65.50 L393.69 65.50 L394.10 65.50 L394.51 65.50 L394.92 65.50 L395.34 65.50 L395.75 65.50 L396.16 65.50 L396.57 65.50 L396.99 65.50 L397.40 65.50 L397.40 65.50 Z" fill="#646464" stroke="#2e2e2e" stroke-width="0.45"/>
<rect x="364.40" y="34.50" width="33.00" height="31.00" fill="none" stroke="#9c9c9c" stroke-width="0.8"/>
<path d="M403.50 65.50 L403.50 51.57 L403.91 50.42 L404.32 49.22 L404.74 47.98 L405.15 46.70 L405.56 45.40 L405.98 44.08 L406.39 42.75 L406.80 41.44 L407.21 40.15 L407.62 38.92 L408.04 37.77 L408.45 36.72 L408.86 35.84 L409.27 35.20 L409.69 35.68 L410.10 38.60 L410.51 42.31 L410.93 46.19 L411.34 49.87 L411.75 53.17 L412.16 55.99 L412.57 58.32 L412.99 60.18 L413.40 61.63 L413.81 62.74 L414.23 63.56 L414.64 64.16 L415.05 64.58 L415.46 64.89 L415.88 65.09 L416.29 65.23 L416.70 65.33 L417.11 65.39 L417.52 65.43 L417.94 65.46 L418.35 65.47 L418.76 65.48 L419.18 65.49 L419.59 65.49 L420.00 65.50 L420.41 65.50 L420.82 65.50 L421.24 65.50 L421.65 65.50 L422.06 65.50 L422.48 65.50 L422.89 65.50 L423.30 65.50 L423.71 65.50 L424.12 65.50 L424.54 65.50 L424.95 65.50 L425.36 65.50 L425.77 65.50 L426.19 65.50 L426.60 65.50 L427.01 65.50 L427.43 65.50 L427.84 65.50 L428.25 65.50 L428.66 65.50 L429.07 65.50 L429.49 65.50 L429.90 65.50 L430.31 65.50 L430.73 65.50 L431.14 65.50 L431.55 65.50 L431.96 65.50 L432.38 65.50 L432.79 65.50 L433.20 65.50 L433.61 65.50 L434.02 65.50 L434.44 65.50 L434.85 65.50 L435.26 65.50 L435.68 65.50 L436.09 65.50 L436.50 65.50 L436.50 65.50 Z" fill="#646464" stroke="#2e2e2e" stroke-width="0.45"/>
<rect x="403.50" y="34.50" width="33.00" height="31.00" fill="none" stroke="#9c9c9c" stroke-width="0.8"/>
<path d="M442.20 65.50 L442.20 63.47 L442.61 62.97 L443.02 62.38 L443.44 61.67 L443.85 60.82 L444.26 59.84 L444.68 58.68 L445.09 57.36 L445.50 55.85 L445.91 54.16 L446.32 52.27 L446.74 50.21 L447.15 48.00 L447.56 45.66 L447.97 43.27 L448.39 40.88 L448.80 38.62 L449.21 36.64 L449.62 35.20 L450.04 36.05 L450.45 39.74 L450.86 44.13 L451.27 48.49 L451.69 52.42 L452.10 55.74 L452.51 58.42 L452.93 60.49 L453.34 62.04 L453.75 63.16 L454.16 63.95 L454.57 64.50 L454.99 64.86 L455.40 65.10 L455.81 65.26 L456.22 65.35 L456.64 65.41 L457.05 65.45 L457.46 65.47 L457.88 65.48 L458.29 65.49 L458.70 65.49 L459.11 65.50 L459.52 65.50 L459.94 65.50 L460.35 65.50 L460.76 65.50 L461.18 65.50 L461.59 65.50 L462.00 65.50 L462.41 65.50 L462.82 65.50 L463.24 65.50 L463.65 65.50 L464.06 65.50 L464.47 65.50 L464.89 65.50 L465.30 65.50 L465.71 65.50 L466.12 65.50 L466.54 65.50 L466.95 65.50 L467.36 65.50 L467.77 65.50 L468.19 65.50 L468.60 65.50 L469.01 65.50 L469.43 65.50 L469.84 65.50 L470.25 65.50 L470.66 65.50 L471.07 65.50 L471.49 65.50 L471.90 65.50 L472.31 65.50 L472.72 65.50 L473.14 65.50 L473.55 65.50 L473.96 65.50 L474.38 65.50 L474.79 65.50 L475.20 65.50 L475.20 65.50 Z" fill="#646464" stroke="#2e2e2e" stroke-width="0.45"/>
<rect x="442.20" y="34.50" width="33.00" height="31.00" fill="none" stroke="#9c9c9c" stroke-width="0.8"/>
<path d="M247.60 99.50 L247.60 99.06 L248.01 98.98 L248.42 98.89 L248.84 98.78 L249.25 98.67 L249.66 98.54 L250.07 98.39 L250.49 98.23 L250.90 98.06 L251.31 97.87 L251.72 97.68 L252.14 97.47 L252.55 97.27 L252.96 97.06 L253.38 96.87 L253.79 96.55 L254.20 95.73 L254.61 94.74 L255.03 93.54 L255.44 92.11 L255.85 90.43 L256.26 88.49 L256.68 86.29 L257.09 83.85 L257.50 81.21 L257.91 78.43 L258.32 75.62 L258.74 72.95 L259.15 70.65 L259.56 69.20 L259.98 70.82 L260.39 73.93 L260.80 77.51 L261.21 81.12 L261.62 84.52 L262.04 87.55 L262.45 90.16 L262.86 92.33 L263.27 94.09 L263.69 95.49 L264.10 96.57 L264.51 97.39 L264.93 98.00 L265.34 98.45 L265.75 98.77 L266.16 99.00 L266.57 99.17 L266.99 99.28 L267.40 99.35 L267.81 99.40 L268.23 99.44 L268.64 99.46 L269.05 99.48 L269.46 99.48 L269.88 99.49 L270.29 99.49 L270.70 99.50 L271.11 99.50 L271.52 99.50 L271.94 99.50 L272.35 99.50 L272.76 99.50 L273.18 99.50 L273.59 99.50 L274.00 99.50 L274.41 99.50 L274.82 99.50 L275.24 99.50 L275.65 99.50 L276.06 99.50 L276.48 99.50 L276.89 99.50 L277.30 99.50 L277.71 99.50 L278.12 99.50 L278.54 99.50 L278.95 99.50 L279.36 99.50 L279.77 99.50 L280.19 99.50 L280.60 99.50 L280.60 99.50 Z" fill="#646464" stroke="#2e2e2e" stroke-width="0.45"/>
<rect x="247.60" y="68.50" width="33.00" height="31.00" fill="none" stroke="#9c9c9c" stroke-width="0.8"/>
<path d="M286.40 99.50 L286.40 98.98 L286.81 98.89 L287.22 98.79 L287.64 98.68 L288.05 98.56 L288.46 98.43 L288.88 98.28 L289.29 98.13 L289.70 97.97 L290.11 97.57 L290.52 97.08 L290.94 96.48 L291.35 95.76 L291.76 94.90 L292.17 93.88 L292.59 92.69 L293.00 91.31 L293.41 89.74 L293.82 87.96 L294.24 85.99 L294.65 83.82 L295.06 81.50 L295.47 79.07 L295.89 76.59 L296.30 74.17 L296.71 71.93 L297.12 70.10 L297.54 69.20 L297.95 70.86 L298.36 73.48 L298.77 76.48 L299.19 79.57 L299.60 82.57 L300.01 85.37 L300.42 87.88 L300.84 90.08 L301.25 91.96 L301.66 93.55 L302.07 94.86 L302.49 95.92 L302.90 96.77 L303.31 97.44 L303.72 97.96 L304.14 98.36 L304.55 98.66 L304.96 98.89 L305.38 99.06 L305.79 99.19 L306.20 99.28 L306.61 99.34 L307.02 99.39 L307.44 99.43 L307.85 99.45 L308.26 99.47 L308.67 99.48 L309.09 99.48 L309.50 99.49 L309.91 99.49 L310.32 99.50 L310.74 99.50 L311.15 99.50 L311.56 99.50 L311.97 99.50 L312.39 99.50 L312.80 99.50 L313.21 99.50 L313.62 99.50 L314.04 99.50 L314.45 99.50 L314.86 99.50 L315.27 99.50 L315.69 99.50 L316.10 99.50 L316.51 99.50 L316.92 99.50 L317.34 99.50 L317.75 99.50 L318.16 99.50 L318.57 99.50 L318.99 99.50 L319.40 99.50 L319.40 99.50 Z" fill="#646464" stroke="#2e2e2e" stroke-width="0.45"/>
<rect x="286.40" y="68.50" width="33.00" height="31.00" fill="none" stroke="#9c9c9c" stroke-width="0.8"/>
<path d="M325.50 99.50 L325.50 99.50 L325.91 99.50 L326.32 99.50 L326.74 99.50 L327.15 99.50 L327.56 99.50 L327.98 99.50 L328.39 99.50 L328.80 99.50 L329.21 99.50 L329.62 99.50 L330.04 99.50 L330.45 99.50 L330.86 99.50 L331.27 99.50 L331.69 99.50 L332.10 99.50 L332.51 99.50 L332.93 99.50 L333.34 99.50 L333.75 99.49 L334.16 99.49 L334.57 99.49 L334.99 99.48 L335.40 99.46 L335.81 99.44 L336.23 99.40 L336.64 99.34 L337.05 99.25 L337.46 99.11 L337.88 98.91 L338.29 98.63 L338.70 98.21 L339.11 97.64 L339.52 96.84 L339.94 95.77 L340.35 94.36 L340.76 92.54 L341.18 90.25 L341.59 87.47 L342.00 84.19 L342.41 80.51 L342.82 76.59 L343.24 72.77 L343.65 69.63 L344.06 69.20 L344.48 72.34 L344.89 76.38 L345.30 80.56 L345.71 84.47 L346.12 87.91 L346.54 90.78 L346.95 93.09 L347.36 94.89 L347.77 96.25 L348.19 97.26 L348.60 97.98 L349.01 98.48 L349.43 98.83 L349.84 99.07 L350.25 99.23 L350.66 99.33 L351.07 99.39 L351.49 99.44 L351.90 99.46 L352.31 99.48 L352.73 99.49 L353.14 99.49 L353.55 99.50 L353.96 99.50 L354.38 99.50 L354.79 99.50 L355.20 99.50 L355.61 99.50 L356.02 99.50 L356.44 99.50 L356.85 99.50 L357.26 99.50 L357.68 99.50 L358.09 99.50 L358.50 99.50 L358.50 99.50 Z" fill="#646464" stroke="#2e2e2e" stroke-width="0.45"/>
<rect x="325.50" y="68.50" width="33.00" height="31.00" fill="none" stroke="#9c9c9c" stroke-width="0.8"/>
<path d="M364.40 99.50 L364.40 98.00 L364.81 97.67 L365.22 97.29 L365.64 96.83 L366.05 96.30 L366.46 95.68 L366.88 94.96 L367.29 94.13 L367.70 93.19 L368.11 92.11 L368.52 90.91 L368.94 89.56 L369.35 88.08 L369.76 86.45 L370.17 84.69 L370.59 82.81 L371.00 80.84 L371.41 78.79 L371.82 76.72 L372.24 74.68 L372.65 72.74 L373.06 71.01 L373.47 69.64 L373.89 69.20 L374.30 70.92 L374.71 73.44 L375.12 76.31 L375.54 79.26 L375.95 82.15 L376.36 84.85 L376.77 87.31 L377.19 89.48 L377.60 91.37 L378.01 92.98 L378.42 94.33 L378.84 95.44 L379.25 96.35 L379.66 97.08 L380.07 97.56 L380.49 97.72 L380.90 97.89 L381.31 98.05 L381.72 98.21 L382.14 98.35 L382.55 98.49 L382.96 98.62 L383.38 98.74 L383.79 98.84 L384.20 98.93 L384.61 99.02 L385.02 99.09 L385.44 99.15 L385.85 99.21 L386.26 99.26 L386.67 99.30 L387.09 99.33 L387.50 99.36 L387.91 99.39 L388.32 99.41 L388.74 99.42 L389.15 99.44 L389.56 99.45 L389.97 99.46 L390.39 99.47 L390.80 99.47 L391.21 99.48 L391.62 99.48 L392.04 99.49 L392.45 99.49 L392.86 99.49 L393.27 99.49 L393.69 99.50 L394.10 99.50 L394.51 99.50 L394.92 99.50 L395.34 99.50 L395.75 99.50 L396.16 99.50 L396.57 99.50 L396.99 99.50 L397.40 99.50 L397.40 99.50 Z" fill="#646464" stroke="#2e2e2e" stroke-width="0.45"/>
<rect x="364.40" y="68.50" width="33.00" height="31.00" fill="none" stroke="#9c9c9c" stroke-width="0.8"/>
<path d="M403.50 99.50 L403.50 87.03 L403.91 85.85 L404.32 84.60 L404.74 83.30 L405.15 81.94 L405.56 80.54 L405.98 79.11 L406.39 77.66 L406.80 76.22 L407.21 74.79 L407.62 73.41 L408.04 72.11 L408.45 70.94 L408.86 69.93 L409.27 69.20 L409.69 69.60 L410.10 72.28 L410.51 75.73 L410.93 79.39 L411.34 82.92 L411.75 86.15 L412.16 88.97 L412.57 91.35 L412.99 93.31 L413.40 94.87 L413.81 96.09 L414.23 97.03 L414.64 97.74 L415.05 98.26 L415.46 98.64 L415.88 98.91 L416.29 99.10 L416.70 99.23 L417.11 99.32 L417.52 99.38 L417.94 99.42 L418.35 99.45 L418.76 99.47 L419.18 99.48 L419.59 99.49 L420.00 99.49 L420.41 99.50 L420.82 99.50 L421.24 99.50 L421.65 99.50 L422.06 99.50 L422.48 99.50 L422.89 99.50 L423.30 99.50 L423.71 99.50 L424.12 99.50 L424.54 99.50 L424.95 99.50 L425.36 99.50 L425.77 99.50 L426.19 99.50 L426.60 99.50 L427.01 99.50 L427.43 99.50 L427.84 99.50 L428.25 99.50 L428.66 99.50 L429.07 99.50 L429.49 99.50 L429.90 99.50 L430.31 99.50 L430.73 99.50 L431.14 99.50 L431.55 99.50 L431.96 99.50 L432.38 99.50 L432.79 99.50 L433.20 99.50 L433.61 99.50 L434.02 99.50 L434.44 99.50 L434.85 99.50 L435.26 99.50 L435.68 99.50 L436.09 99.50 L436.50 99.50 L436.50 99.50 Z" fill="#646464" stroke="#2e2e2e" stroke-width="0.45"/>
<rect x="403.50" y="68.50" width="33.00" height="31.00" fill="none" stroke="#9c9c9c" stroke-width="0.8"/>
<path d="M442.20 99.50 L442.20 99.33 L442.61 99.26 L443.02 99.16 L443.44 99.02 L443.85 98.83 L444.26 98.59 L444.68 98.26 L445.09 97.82 L445.50 97.26 L445.91 96.54 L446.32 95.64 L446.74 94.51 L447.15 93.13 L447.56 91.46 L447.97 89.48 L448.39 87.18 L448.80 84.58 L449.21 81.72 L449.62 78.67 L450.04 75.57 L450.45 72.63 L450.86 70.18 L451.27 69.20 L451.69 71.30 L452.10 74.37 L452.51 77.79 L452.93 81.20 L453.34 84.42 L453.75 87.31 L454.16 89.82 L454.57 91.94 L454.99 93.69 L455.40 95.10 L455.81 96.21 L456.22 97.08 L456.64 97.74 L457.05 98.23 L457.46 98.60 L457.88 98.87 L458.29 99.06 L458.70 99.20 L459.11 99.29 L459.52 99.36 L459.94 99.41 L460.35 99.44 L460.76 99.46 L461.18 99.47 L461.59 99.48 L462.00 99.49 L462.41 99.49 L462.82 99.50 L463.24 99.50 L463.65 99.50 L464.06 99.50 L464.47 99.50 L464.89 99.50 L465.30 99.50 L465.71 99.50 L466.12 99.50 L466.54 99.50 L466.95 99.50 L467.36 99.50 L467.77 99.50 L468.19 99.50 L468.60 99.50 L469.01 99.50 L469.43 99.50 L469.84 99.50 L470.25 99.50 L470.66 99.50 L471.07 99.50 L471.49 99.50 L471.90 99.50 L472.31 99.50 L472.72 99.50 L473.14 99.50 L473.55 99.50 L473.96 99.50 L474.38 99.50 L474.79 99.50 L475.20 99.50 L475.20 99.50 Z" fill="#646464" stroke="#2e2e2e" stroke-width="0.45"/>
<rect x="442.20" y="68.50" width="33.00" height="31.00" fill="none" stroke="#9c9c9c" stroke-width="0.8"/>
<path d="M247.60 133.90 L247.60 133.45 L248.01 133.37 L248.42 133.28 L248.84 133.17 L249.25 133.05 L249.66 132.92 L250.07 132.77 L250.49 132.61 L250.90 132.43 L251.31 132.24 L251.72 132.05 L252.14 131.84 L252.55 131.63 L252.96 131.42 L253.38 131.22 L253.79 130.79 L254.20 129.97 L254.61 128.99 L255.03 127.81 L255.44 126.42 L255.85 124.80 L256.26 122.94 L256.68 120.84 L257.09 118.50 L257.50 115.97 L257.91 113.29 L258.32 110.55 L258.74 107.88 L259.15 105.47 L259.56 103.60 L259.98 103.60 L260.39 106.27 L260.80 109.75 L261.21 113.45 L261.62 117.03 L262.04 120.30 L262.45 123.17 L262.86 125.59 L263.27 127.58 L263.69 129.17 L264.10 130.42 L264.51 131.38 L264.93 132.10 L265.34 132.63 L265.75 133.02 L266.16 133.29 L266.57 133.49 L266.99 133.62 L267.40 133.72 L267.81 133.78 L268.23 133.82 L268.64 133.85 L269.05 133.87 L269.46 133.88 L269.88 133.89 L270.29 133.89 L270.70 133.90 L271.11 133.90 L271.52 133.90 L271.94 133.90 L272.35 133.90 L272.76 133.90 L273.18 133.90 L273.59 133.90 L274.00 133.90 L274.41 133.90 L274.82 133.90 L275.24 133.90 L275.65 133.90 L276.06 133.90 L276.48 133.90 L276.89 133.90 L277.30 133.90 L277.71 133.90 L278.12 133.90 L278.54 133.90 L278.95 133.90 L279.36 133.90 L279.77 133.90 L280.19 133.90 L280.60 133.90 L280.60 133.90 Z" fill="#646464" stroke="#2e2e2e" stroke-width="0.45"/>
<rect x="247.60" y="102.90" width="33.00" height="31.00" fill="none" stroke="#9c9c9c" stroke-width="0.8"/>
<path d="M286.40 133.90 L286.40 133.60 L286.81 133.50 L287.22 133.38 L287.64 133.22 L288.05 133.03 L288.46 132.78 L288.88 132.48 L289.29 132.10 L289.70 131.63 L290.11 131.07 L290.52 130.38 L290.94 129.57 L291.35 128.60 L291.76 127.46 L292.17 126.14 L292.59 124.62 L293.00 122.90 L293.41 120.98 L293.82 118.86 L294.24 116.58 L294.65 114.17 L295.06 111.69 L295.47 109.24 L295.89 106.92 L296.30 104.93 L296.71 103.60 L297.12 104.36 L297.54 106.34 L297.95 108.80 L298.36 111.46 L298.77 114.15 L299.19 116.77 L299.60 119.23 L300.01 121.48 L300.42 123.51 L300.84 125.29 L301.25 126.84 L301.66 128.16 L302.07 129.28 L302.49 130.21 L302.90 130.98 L303.31 131.61 L303.72 132.11 L304.14 132.52 L304.55 132.84 L304.96 133.09 L305.38 133.29 L305.79 133.44 L306.20 133.56 L306.61 133.64 L307.02 133.71 L307.44 133.76 L307.85 133.80 L308.26 133.83 L308.67 133.85 L309.09 133.86 L309.50 133.87 L309.91 133.88 L310.32 133.89 L310.74 133.89 L311.15 133.89 L311.56 133.90 L311.97 133.90 L312.39 133.90 L312.80 133.90 L313.21 133.90 L313.62 133.90 L314.04 133.90 L314.45 133.90 L314.86 133.90 L315.27 133.90 L315.69 133.90 L316.10 133.90 L316.51 133.90 L316.92 133.90 L317.34 133.90 L317.75 133.90 L318.16 133.90 L318.57 133.90 L318.99 133.90 L319.40 133.90 L319.40 133.90 Z" fill="#646464" stroke="#2e2e2e" stroke-width="0.45"/>
<rect x="286.40" y="102.90" width="33.00" height="31.00" fill="none" stroke="#9c9c9c" stroke-width="0.8"/>
<path d="M325.50 133.90 L325.50 133.90 L325.91 133.90 L326.32 133.90 L326.74 133.90 L327.15 133.90 L327.56 133.90 L327.98 133.90 L328.39 133.90 L328.80 133.90 L329.21 133.90 L329.62 133.90 L330.04 133.90 L330.45 133.90 L330.86 133.90 L331.27 133.90 L331.69 133.90 L332.10 133.90 L332.51 133.90 L332.93 133.90 L333.34 133.90 L333.75 133.90 L334.16 133.90 L334.57 133.90 L334.99 133.89 L335.40 133.88 L335.81 133.87 L336.23 133.85 L336.64 133.81 L337.05 133.76 L337.46 133.66 L337.88 133.51 L338.29 133.28 L338.70 132.92 L339.11 132.38 L339.52 131.60 L339.94 130.50 L340.35 128.97 L340.76 126.92 L341.18 124.26 L341.59 120.96 L342.00 117.04 L342.41 112.67 L342.82 108.24 L343.24 104.45 L343.65 103.60 L344.06 106.42 L344.48 110.13 L344.89 114.04 L345.30 117.79 L345.71 121.16 L346.12 124.06 L346.54 126.45 L346.95 128.38 L347.36 129.88 L347.77 131.02 L348.19 131.87 L348.60 132.50 L349.01 132.94 L349.43 133.26 L349.84 133.47 L350.25 133.62 L350.66 133.72 L351.07 133.78 L351.49 133.83 L351.90 133.85 L352.31 133.87 L352.73 133.88 L353.14 133.89 L353.55 133.89 L353.96 133.90 L354.38 133.90 L354.79 133.90 L355.20 133.90 L355.61 133.90 L356.02 133.90 L356.44 133.90 L356.85 133.90 L357.26 133.90 L357.68 133.90 L358.09 133.90 L358.50 133.90 L358.50 133.90 Z" fill="#646464" stroke="#2e2e2e" stroke-width="0.45"/>
<rect x="325.50" y="102.90" width="33.00" height="31.00" fill="none" stroke="#9c9c9c" stroke-width="0.8"/>
<path d="M364.40 133.90 L364.40 132.97 L364.81 132.74 L365.22 132.47 L365.64 132.13 L366.05 131.72 L366.46 131.24 L366.88 130.67 L367.29 129.99 L367.70 129.20 L368.11 128.28 L368.52 127.23 L368.94 126.02 L369.35 124.66 L369.76 123.13 L370.17 121.45 L370.59 119.60 L371.00 117.61 L371.41 115.50 L371.82 113.30 L372.24 111.07 L372.65 108.86 L373.06 106.78 L373.47 104.96 L373.89 103.60 L374.30 103.68 L374.71 105.46 L375.12 107.82 L375.54 110.46 L375.95 113.18 L376.36 115.85 L376.77 118.38 L377.19 120.72 L377.60 122.83 L378.01 124.70 L378.42 126.34 L378.84 127.74 L379.25 128.92 L379.66 129.92 L380.07 130.74 L380.49 131.41 L380.90 131.88 L381.31 132.04 L381.72 132.21 L382.14 132.37 L382.55 132.53 L382.96 132.69 L383.38 132.83 L383.79 132.96 L384.20 133.08 L384.61 133.19 L385.02 133.29 L385.44 133.38 L385.85 133.46 L386.26 133.52 L386.67 133.58 L387.09 133.64 L387.50 133.68 L387.91 133.72 L388.32 133.75 L388.74 133.78 L389.15 133.80 L389.56 133.82 L389.97 133.83 L390.39 133.85 L390.80 133.86 L391.21 133.86 L391.62 133.87 L392.04 133.88 L392.45 133.88 L392.86 133.89 L393.27 133.89 L393.69 133.89 L394.10 133.89 L394.51 133.89 L394.92 133.90 L395.34 133.90 L395.75 133.90 L396.16 133.90 L396.57 133.90 L396.99 133.90 L397.40 133.90 L397.40 133.90 Z" fill="#646464" stroke="#2e2e2e" stroke-width="0.45"/>
<rect x="364.40" y="102.90" width="33.00" height="31.00" fill="none" stroke="#9c9c9c" stroke-width="0.8"/>
<path d="M403.50 133.90 L403.50 121.43 L403.91 120.25 L404.32 119.00 L404.74 117.70 L405.15 116.34 L405.56 114.94 L405.98 113.51 L406.39 112.06 L406.80 110.62 L407.21 109.19 L407.62 107.81 L408.04 106.51 L408.45 105.34 L408.86 104.33 L409.27 103.60 L409.69 104.00 L410.10 106.68 L410.51 110.13 L410.93 113.79 L411.34 117.32 L411.75 120.55 L412.16 123.37 L412.57 125.75 L412.99 127.71 L413.40 129.27 L413.81 130.49 L414.23 131.43 L414.64 132.14 L415.05 132.66 L415.46 133.04 L415.88 133.31 L416.29 133.50 L416.70 133.63 L417.11 133.72 L417.52 133.78 L417.94 133.82 L418.35 133.85 L418.76 133.87 L419.18 133.88 L419.59 133.89 L420.00 133.89 L420.41 133.90 L420.82 133.90 L421.24 133.90 L421.65 133.90 L422.06 133.90 L422.48 133.90 L422.89 133.90 L423.30 133.90 L423.71 133.90 L424.12 133.90 L424.54 133.90 L424.95 133.90 L425.36 133.90 L425.77 133.90 L426.19 133.90 L426.60 133.90 L427.01 133.90 L427.43 133.90 L427.84 133.90 L428.25 133.90 L428.66 133.90 L429.07 133.90 L429.49 133.90 L429.90 133.90 L430.31 133.90 L430.73 133.90 L431.14 133.90 L431.55 133.90 L431.96 133.90 L432.38 133.90 L432.79 133.90 L433.20 133.90 L433.61 133.90 L434.02 133.90 L434.44 133.90 L434.85 133.90 L435.26 133.90 L435.68 133.90 L436.09 133.90 L436.50 133.90 L436.50 133.90 Z" fill="#646464" stroke="#2e2e2e" stroke-width="0.45"/>
<rect x="403.50" y="102.90" width="33.00" height="31.00" fill="none" stroke="#9c9c9c" stroke-width="0.8"/>
<path d="M442.20 133.90 L442.20 133.73 L442.61 133.66 L443.02 133.56 L443.44 133.42 L443.85 133.23 L444.26 132.99 L444.68 132.66 L445.09 132.22 L445.50 131.66 L445.91 130.94 L446.32 130.04 L446.74 128.91 L447.15 127.53 L447.56 125.86 L447.97 123.88 L448.39 121.58 L448.80 118.98 L449.21 116.12 L449.62 113.07 L450.04 109.97 L450.45 107.03 L450.86 104.58 L451.27 103.60 L451.69 105.70 L452.10 108.77 L452.51 112.19 L452.93 115.60 L453.34 118.82 L453.75 121.71 L454.16 124.22 L454.57 126.34 L454.99 128.09 L455.40 129.50 L455.81 130.61 L456.22 131.48 L456.64 132.14 L457.05 132.63 L457.46 133.00 L457.88 133.27 L458.29 133.46 L458.70 133.60 L459.11 133.69 L459.52 133.76 L459.94 133.81 L460.35 133.84 L460.76 133.86 L461.18 133.87 L461.59 133.88 L462.00 133.89 L462.41 133.89 L462.82 133.90 L463.24 133.90 L463.65 133.90 L464.06 133.90 L464.47 133.90 L464.89 133.90 L465.30 133.90 L465.71 133.90 L466.12 133.90 L466.54 133.90 L466.95 133.90 L467.36 133.90 L467.77 133.90 L468.19 133.90 L468.60 133.90 L469.01 133.90 L469.43 133.90 L469.84 133.90 L470.25 133.90 L470.66 133.90 L471.07 133.90 L471.49 133.90 L471.90 133.90 L472.31 133.90 L472.72 133.90 L473.14 133.90 L473.55 133.90 L473.96 133.90 L474.38 133.90 L474.79 133.90 L475.20 133.90 L475.20 133.90 Z" fill="#646464" stroke="#2e2e2e" stroke-width="0.45"/>
<rect x="442.20" y="102.90" width="33.00" height="31.00" fill="none" stroke="#9c9c9c" stroke-width="0.8"/>
<path d="M247.60 167.90 L247.60 167.55 L248.01 167.49 L248.42 167.41 L248.84 167.33 L249.25 167.23 L249.66 167.13 L250.07 167.01 L250.49 166.89 L250.90 166.75 L251.31 166.60 L251.72 166.44 L252.14 166.28 L252.55 166.12 L252.96 165.95 L253.38 165.69 L253.79 165.16 L254.20 164.52 L254.61 163.77 L255.03 162.87 L255.44 161.83 L255.85 160.61 L256.26 159.23 L256.68 157.65 L257.09 155.89 L257.50 153.95 L257.91 151.84 L258.32 149.59 L258.74 147.25 L259.15 144.87 L259.56 142.54 L259.98 140.40 L260.39 138.62 L260.80 137.60 L261.21 139.68 L261.62 143.11 L262.04 146.95 L262.45 150.73 L262.86 154.20 L263.27 157.23 L263.69 159.77 L264.10 161.83 L264.51 163.45 L264.93 164.69 L265.34 165.63 L265.75 166.32 L266.16 166.81 L266.57 167.17 L266.99 167.41 L267.40 167.58 L267.81 167.69 L268.23 167.77 L268.64 167.82 L269.05 167.85 L269.46 167.87 L269.88 167.88 L270.29 167.89 L270.70 167.89 L271.11 167.90 L271.52 167.90 L271.94 167.90 L272.35 167.90 L272.76 167.90 L273.18 167.90 L273.59 167.90 L274.00 167.90 L274.41 167.90 L274.82 167.90 L275.24 167.90 L275.65 167.90 L276.06 167.90 L276.48 167.90 L276.89 167.90 L277.30 167.90 L277.71 167.90 L278.12 167.90 L278.54 167.90 L278.95 167.90 L279.36 167.90 L279.77 167.90 L280.19 167.90 L280.60 167.90 L280.60 167.90 Z" fill="#646464" stroke="#2e2e2e" stroke-width="0.45"/>
<rect x="247.60" y="136.90" width="33.00" height="31.00" fill="none" stroke="#9c9c9c" stroke-width="0.8"/>
<path d="M286.40 167.90 L286.40 167.67 L286.81 167.58 L287.22 167.46 L287.64 167.29 L288.05 167.08 L288.46 166.80 L288.88 166.46 L289.29 166.03 L289.70 165.50 L290.11 164.86 L290.52 164.10 L290.94 163.22 L291.35 162.20 L291.76 161.04 L292.17 159.76 L292.59 158.34 L293.00 156.82 L293.41 155.20 L293.82 153.52 L294.24 151.81 L294.65 150.09 L295.06 148.41 L295.47 146.80 L295.89 145.31 L296.30 143.95 L296.71 142.77 L297.12 141.79 L297.54 141.02 L297.95 140.48 L298.36 140.15 L298.77 140.02 L299.19 140.06 L299.60 140.34 L300.01 140.91 L300.42 141.77 L300.84 142.92 L301.25 144.33 L301.66 145.97 L302.07 147.77 L302.49 149.70 L302.90 151.68 L303.31 153.67 L303.72 155.60 L304.14 157.44 L304.55 159.14 L304.96 160.69 L305.38 162.06 L305.79 163.25 L306.20 164.26 L306.61 165.10 L307.02 165.78 L307.44 166.32 L307.85 166.75 L308.26 167.07 L308.67 167.32 L309.09 167.50 L309.50 167.63 L309.91 167.72 L310.32 167.78 L310.74 167.82 L311.15 167.85 L311.56 167.87 L311.97 167.88 L312.39 167.89 L312.80 167.89 L313.21 167.90 L313.62 167.90 L314.04 167.90 L314.45 167.90 L314.86 167.90 L315.27 167.90 L315.69 167.90 L316.10 167.90 L316.51 167.90 L316.92 167.90 L317.34 167.90 L317.75 167.90 L318.16 167.90 L318.57 167.90 L318.99 167.90 L319.40 167.90 L319.40 167.90 Z" fill="#646464" stroke="#2e2e2e" stroke-width="0.45"/>
<rect x="286.40" y="136.90" width="33.00" height="31.00" fill="none" stroke="#9c9c9c" stroke-width="0.8"/>
<path d="M325.50 167.90 L325.50 167.90 L325.91 167.90 L326.32 167.90 L326.74 167.90 L327.15 167.90 L327.56 167.90 L327.98 167.90 L328.39 167.90 L328.80 167.89 L329.21 167.89 L329.62 167.88 L330.04 167.88 L330.45 167.87 L330.86 167.86 L331.27 167.84 L331.69 167.81 L332.10 167.78 L332.51 167.73 L332.93 167.66 L333.34 167.58 L333.75 167.46 L334.16 167.31 L334.57 167.10 L334.99 166.84 L335.40 166.51 L335.81 166.08 L336.23 165.54 L336.64 164.86 L337.05 164.03 L337.46 163.01 L337.88 161.78 L338.29 160.33 L338.70 158.62 L339.11 156.65 L339.52 154.42 L339.94 151.96 L340.35 149.30 L340.76 146.51 L341.18 143.71 L341.59 141.07 L342.00 138.84 L342.41 137.60 L342.82 139.16 L343.24 141.74 L343.65 144.72 L344.06 147.81 L344.48 150.82 L344.89 153.62 L345.30 156.15 L345.71 158.37 L346.12 160.27 L346.54 161.87 L346.95 163.19 L347.36 164.26 L347.77 165.12 L348.19 165.31 L348.60 165.13 L349.01 164.98 L349.43 164.88 L349.84 164.93 L350.25 165.07 L350.66 165.24 L351.07 165.43 L351.49 165.64 L351.90 165.84 L352.31 166.05 L352.73 166.24 L353.14 166.43 L353.55 166.61 L353.96 166.77 L354.38 166.91 L354.79 167.05 L355.20 167.17 L355.61 167.27 L356.02 167.37 L356.44 167.45 L356.85 167.52 L357.26 167.58 L357.68 167.64 L358.09 167.68 L358.50 167.72 L358.50 167.90 Z" fill="#646464" stroke="#2e2e2e" stroke-width="0.45"/>
<rect x="325.50" y="136.90" width="33.00" height="31.00" fill="none" stroke="#9c9c9c" stroke-width="0.8"/>
<path d="M364.40 167.90 L364.40 167.50 L364.81 167.39 L365.22 167.24 L365.64 167.06 L366.05 166.83 L366.46 166.55 L366.88 166.21 L367.29 165.78 L367.70 165.27 L368.11 164.66 L368.52 163.92 L368.94 163.06 L369.35 162.04 L369.76 160.86 L370.17 159.51 L370.59 157.97 L371.00 156.24 L371.41 154.33 L371.82 152.25 L372.24 150.02 L372.65 147.68 L373.06 145.30 L373.47 142.94 L373.89 140.74 L374.30 138.86 L374.71 137.60 L375.12 138.26 L375.54 140.03 L375.95 142.23 L376.36 144.65 L376.77 147.13 L377.19 149.58 L377.60 151.92 L378.01 154.11 L378.42 156.11 L378.84 157.92 L379.25 159.52 L379.66 160.92 L380.07 162.14 L380.49 163.18 L380.90 164.06 L381.31 164.79 L381.72 165.41 L382.14 165.91 L382.55 166.33 L382.96 166.66 L383.38 166.93 L383.79 167.15 L384.20 167.32 L384.61 167.45 L385.02 167.56 L385.44 167.64 L385.85 167.70 L386.26 167.75 L386.67 167.79 L387.09 167.82 L387.50 167.84 L387.91 167.86 L388.32 167.87 L388.74 167.88 L389.15 167.88 L389.56 167.89 L389.97 167.89 L390.39 167.89 L390.80 167.90 L391.21 167.90 L391.62 167.90 L392.04 167.90 L392.45 167.90 L392.86 167.90 L393.27 167.90 L393.69 167.90 L394.10 167.90 L394.51 167.90 L394.92 167.90 L395.34 167.90 L395.75 167.90 L396.16 167.90 L396.57 167.90 L396.99 167.90 L397.40 167.90 L397.40 167.90 Z" fill="#646464" stroke="#2e2e2e" stroke-width="0.45"/>
<rect x="364.40" y="136.90" width="33.00" height="31.00" fill="none" stroke="#9c9c9c" stroke-width="0.8"/>
<path d="M403.50 167.90 L403.50 167.85 L403.91 167.83 L404.32 167.80 L404.74 167.76 L405.15 167.71 L405.56 167.63 L405.98 167.54 L406.39 167.41 L406.80 167.24 L407.21 167.02 L407.62 166.73 L408.04 166.36 L408.45 165.89 L408.86 165.30 L409.27 164.57 L409.69 163.67 L410.10 162.58 L410.51 161.26 L410.93 159.71 L411.34 157.90 L411.75 155.82 L412.16 153.49 L412.57 150.93 L412.99 148.19 L413.40 145.36 L413.81 142.56 L414.23 140.00 L414.64 137.98 L415.05 137.60 L415.46 139.38 L415.88 141.83 L416.29 144.59 L416.70 147.42 L417.11 150.20 L417.52 152.82 L417.94 155.21 L418.35 157.36 L418.76 159.24 L419.18 160.86 L419.59 162.24 L420.00 163.39 L420.41 164.34 L420.82 165.12 L421.24 165.74 L421.65 166.24 L422.06 166.64 L422.48 166.94 L422.89 167.18 L423.30 167.37 L423.71 167.50 L424.12 167.61 L424.54 167.69 L424.95 167.75 L425.36 167.79 L425.77 167.82 L426.19 167.84 L426.60 167.86 L427.01 167.87 L427.43 167.88 L427.84 167.89 L428.25 167.89 L428.66 167.89 L429.07 167.90 L429.49 167.90 L429.90 167.90 L430.31 167.90 L430.73 167.90 L431.14 167.90 L431.55 167.90 L431.96 167.90 L432.38 167.90 L432.79 167.90 L433.20 167.90 L433.61 167.90 L434.02 167.90 L434.44 167.90 L434.85 167.90 L435.26 167.90 L435.68 167.90 L436.09 167.90 L436.50 167.90 L436.50 167.90 Z" fill="#646464" stroke="#2e2e2e" stroke-width="0.45"/>
<rect x="403.50" y="136.90" width="33.00" height="31.00" fill="none" stroke="#9c9c9c" stroke-width="0.8"/>
<path d="M442.20 167.90 L442.20 167.90 L442.61 167.90 L443.02 167.90 L443.44 167.90 L443.85 167.90 L444.26 167.90 L444.68 167.90 L445.09 167.90 L445.50 167.90 L445.91 167.90 L446.32 167.90 L446.74 167.90 L447.15 167.90 L447.56 167.90 L447.97 167.90 L448.39 167.89 L448.80 167.89 L449.21 167.88 L449.62 167.88 L450.04 167.86 L450.45 167.84 L450.86 167.82 L451.27 167.78 L451.69 167.72 L452.10 167.64 L452.51 167.53 L452.93 167.37 L453.34 167.16 L453.75 166.87 L454.16 166.48 L454.57 165.96 L454.99 165.29 L455.40 164.42 L455.81 163.32 L456.22 161.95 L456.64 160.27 L457.05 158.25 L457.46 155.87 L457.88 153.15 L458.29 150.13 L458.70 146.89 L459.11 143.60 L459.52 140.50 L459.94 138.01 L460.35 137.60 L460.76 140.18 L461.18 143.62 L461.59 147.30 L462.00 150.88 L462.41 154.17 L462.82 157.05 L463.24 159.49 L463.65 161.50 L464.06 163.11 L464.47 164.37 L464.89 165.34 L465.30 166.07 L465.71 166.61 L466.12 167.00 L466.54 167.28 L466.95 167.48 L467.36 167.62 L467.77 167.71 L468.19 167.78 L468.60 167.82 L469.01 167.85 L469.43 167.87 L469.84 167.88 L470.25 167.89 L470.66 167.89 L471.07 167.90 L471.49 167.90 L471.90 167.90 L472.31 167.90 L472.72 167.90 L473.14 167.90 L473.55 167.90 L473.96 167.90 L474.38 167.90 L474.79 167.90 L475.20 167.90 L475.20 167.90 Z" fill="#646464" stroke="#2e2e2e" stroke-width="0.45"/>
<rect x="442.20" y="136.90" width="33.00" height="31.00" fill="none" stroke="#9c9c9c" stroke-width="0.8"/>
<text transform="translate(22.00 176.90)" font-size="6.3" font-weight="bold" text-anchor="start" fill="#111">CD25</text>
<text transform="translate(56.30 176.90)" font-size="6.3" font-weight="bold" text-anchor="start" fill="#111">CD30</text>
<text transform="translate(95.40 176.90)" font-size="6.3" font-weight="bold" text-anchor="start" fill="#111">CD69</text>
<text transform="translate(125.50 176.90)" font-size="6.3" font-weight="bold" text-anchor="start" fill="#111">KLRG1</text>
<text transform="translate(164.30 176.90)" font-size="6.3" font-weight="bold" text-anchor="start" fill="#111">PD-1</text>
<text transform="translate(199.00 176.90)" font-size="6.3" font-weight="bold" text-anchor="start" fill="#111">IFN-γ</text>
<text transform="translate(246.90 176.90)" font-size="6.3" font-weight="bold" text-anchor="start" fill="#111">Perforin</text>
<text transform="translate(285.70 176.90)" font-size="6.3" font-weight="bold" text-anchor="start" fill="#111">Granzyme B</text>
<text transform="translate(333.50 176.90)" font-size="6.3" font-weight="bold" text-anchor="start" fill="#111">CD107a</text>
<text transform="translate(372.70 176.90)" font-size="6.3" font-weight="bold" text-anchor="start" fill="#111">FasL</text>
<text transform="translate(407.30 176.90)" font-size="6.3" font-weight="bold" text-anchor="start" fill="#111">TRAIL</text>
<text transform="translate(450.00 176.90)" font-size="6.3" font-weight="bold" text-anchor="start" fill="#111">TNFα</text>
<text transform="translate(481.50 58.50)" font-size="7.4" font-weight="bold" text-anchor="start" fill="#111">B6 CD45.1</text>
<text transform="translate(481.50 84.80)" font-size="7.4" font-weight="bold" text-anchor="start" fill="#111">Bulk</text>
<text transform="translate(481.50 120.40)" font-size="7.4" font-weight="bold" text-anchor="start" fill="#111">CD62L+</text>
<text transform="translate(481.50 156.90)" font-size="7.4" font-weight="bold" text-anchor="start" fill="#111">CD62L-</text>
<text transform="translate(13.30 195.90)" font-size="9.5" font-weight="normal" text-anchor="start" fill="#1a1a1a">ii</text>
<text transform="translate(124.90 196.20)" font-size="9.5" font-weight="normal" text-anchor="start" fill="#1a1a1a">iii</text>
<text transform="translate(256.80 196.10)" font-size="9.5" font-weight="normal" text-anchor="start" fill="#1a1a1a">ii</text>
<text transform="translate(368.30 196.10)" font-size="9.5" font-weight="normal" text-anchor="start" fill="#1a1a1a">iii</text>
<text transform="translate(71.20 304.10)" font-size="9.5" font-weight="normal" text-anchor="start" fill="#1a1a1a">iv</text>
<text transform="translate(321.00 304.80)" font-size="9.5" font-weight="normal" text-anchor="start" fill="#1a1a1a">iv</text>
<text transform="translate(7.20 239.30) rotate(-90)" font-size="6.4" font-weight="bold" text-anchor="middle" fill="#111">% of CD4+ T cells</text>
<text transform="translate(117.60 238.80) rotate(-90)" font-size="6.3" font-weight="bold" text-anchor="middle" fill="#111">MFI</text>
<text transform="translate(57.60 345.00) rotate(-90)" font-size="6.45" font-weight="bold" text-anchor="middle" fill="#111">Total activated CD4+</text>
<text transform="translate(64.10 346.00) rotate(-90)" font-size="5.95" font-weight="bold" text-anchor="middle" fill="#111">T cells</text>
<text transform="translate(252.90 238.50) rotate(-90)" font-size="6.1" font-weight="bold" text-anchor="middle" fill="#111">% of CD8+ T cells</text>
<text transform="translate(368.40 239.30) rotate(-90)" font-size="6" font-weight="bold" text-anchor="middle" fill="#111">MFI</text>
<text transform="translate(305.60 344.10) rotate(-90)" font-size="6.55" font-weight="bold" text-anchor="middle" fill="#111">Total activated CD8+</text>
<text transform="translate(313.60 343.30) rotate(-90)" font-size="6.1" font-weight="bold" text-anchor="middle" fill="#111">T cells</text>
<line x1="19.40" y1="205.00" x2="19.40" y2="273.30" stroke="#111" stroke-width="0.9"/>
<line x1="16.90" y1="273.30" x2="19.40" y2="273.30" stroke="#111" stroke-width="0.6"/>
<text transform="translate(15.80 274.96) scale(0.85 1)" font-size="4.6" font-weight="bold" text-anchor="end" fill="#111">0</text>
<line x1="16.90" y1="263.60" x2="19.40" y2="263.60" stroke="#111" stroke-width="0.6"/>
<text transform="translate(15.80 265.26) scale(0.85 1)" font-size="4.6" font-weight="bold" text-anchor="end" fill="#111">10</text>
<line x1="16.90" y1="253.90" x2="19.40" y2="253.90" stroke="#111" stroke-width="0.6"/>
<text transform="translate(15.80 255.56) scale(0.85 1)" font-size="4.6" font-weight="bold" text-anchor="end" fill="#111">20</text>
<line x1="16.90" y1="244.20" x2="19.40" y2="244.20" stroke="#111" stroke-width="0.6"/>
<text transform="translate(15.80 245.86) scale(0.85 1)" font-size="4.6" font-weight="bold" text-anchor="end" fill="#111">30</text>
<line x1="16.90" y1="234.50" x2="19.40" y2="234.50" stroke="#111" stroke-width="0.6"/>
<text transform="translate(15.80 236.16) scale(0.85 1)" font-size="4.6" font-weight="bold" text-anchor="end" fill="#111">40</text>
<line x1="16.90" y1="224.80" x2="19.40" y2="224.80" stroke="#111" stroke-width="0.6"/>
<text transform="translate(15.80 226.46) scale(0.85 1)" font-size="4.6" font-weight="bold" text-anchor="end" fill="#111">50</text>
<line x1="16.90" y1="215.10" x2="19.40" y2="215.10" stroke="#111" stroke-width="0.6"/>
<text transform="translate(15.80 216.76) scale(0.85 1)" font-size="4.6" font-weight="bold" text-anchor="end" fill="#111">60</text>
<line x1="16.90" y1="205.40" x2="19.40" y2="205.40" stroke="#111" stroke-width="0.6"/>
<text transform="translate(15.80 207.06) scale(0.85 1)" font-size="4.6" font-weight="bold" text-anchor="end" fill="#111">70</text>
<rect x="21.10" y="261.30" width="2.95" height="11.90" fill="#4a4a4a" stroke="#111" stroke-width="0.55"/>
<rect x="24.60" y="236.90" width="2.95" height="36.30" fill="#1c1c1c" stroke="#111" stroke-width="0.55"/>
<rect x="25.58" y="271.15" width="1" height="0.9" fill="#ececec"/>
<rect x="25.58" y="269.15" width="1" height="0.9" fill="#ececec"/>
<rect x="25.58" y="267.15" width="1" height="0.9" fill="#ececec"/>
<rect x="25.58" y="265.15" width="1" height="0.9" fill="#ececec"/>
<rect x="25.58" y="263.15" width="1" height="0.9" fill="#ececec"/>
<rect x="25.58" y="261.15" width="1" height="0.9" fill="#ececec"/>
<rect x="25.58" y="259.15" width="1" height="0.9" fill="#ececec"/>
<rect x="25.58" y="257.15" width="1" height="0.9" fill="#ececec"/>
<rect x="25.58" y="255.15" width="1" height="0.9" fill="#ececec"/>
<rect x="25.58" y="253.15" width="1" height="0.9" fill="#ececec"/>
<rect x="25.58" y="251.15" width="1" height="0.9" fill="#ececec"/>
<rect x="25.58" y="249.15" width="1" height="0.9" fill="#ececec"/>
<rect x="25.58" y="247.15" width="1" height="0.9" fill="#ececec"/>
<rect x="25.58" y="245.15" width="1" height="0.9" fill="#ececec"/>
<rect x="25.58" y="243.15" width="1" height="0.9" fill="#ececec"/>
<rect x="25.58" y="241.15" width="1" height="0.9" fill="#ececec"/>
<rect x="25.58" y="239.15" width="1" height="0.9" fill="#ececec"/>
<rect x="25.58" y="237.15" width="1" height="0.9" fill="#ececec"/>
<path d="M26.08 236.90 V234.50 M25.38 234.50 H26.78" stroke="#111" stroke-width="0.5" fill="none"/>
<rect x="28.10" y="247.20" width="2.95" height="26.00" fill="#767676" stroke="#111" stroke-width="0.55"/>
<path d="M29.58 247.20 V246.00 M28.88 246.00 H30.28" stroke="#111" stroke-width="0.5" fill="none"/>
<rect x="31.60" y="229.20" width="2.95" height="44.00" fill="#8e8e8e" stroke="#111" stroke-width="0.55"/>
<path d="M33.08 229.20 V220.00 M32.38 220.00 H33.78" stroke="#111" stroke-width="0.5" fill="none"/>
<rect x="37.90" y="272.80" width="2.95" height="0.40" fill="#4a4a4a" stroke="#111" stroke-width="0.55"/>
<rect x="41.40" y="272.30" width="2.95" height="0.90" fill="#1c1c1c" stroke="#111" stroke-width="0.55"/>
<rect x="44.90" y="271.80" width="2.95" height="1.40" fill="#767676" stroke="#111" stroke-width="0.55"/>
<rect x="48.40" y="264.50" width="2.95" height="8.70" fill="#8e8e8e" stroke="#111" stroke-width="0.55"/>
<path d="M49.88 264.50 V263.00 M49.18 263.00 H50.58" stroke="#111" stroke-width="0.5" fill="none"/>
<rect x="54.70" y="265.20" width="2.95" height="8.00" fill="#4a4a4a" stroke="#111" stroke-width="0.55"/>
<rect x="58.20" y="262.30" width="2.95" height="10.90" fill="#1c1c1c" stroke="#111" stroke-width="0.55"/>
<rect x="59.18" y="271.15" width="1" height="0.9" fill="#ececec"/>
<rect x="59.18" y="269.15" width="1" height="0.9" fill="#ececec"/>
<rect x="59.18" y="267.15" width="1" height="0.9" fill="#ececec"/>
<rect x="59.18" y="265.15" width="1" height="0.9" fill="#ececec"/>
<rect x="59.18" y="263.15" width="1" height="0.9" fill="#ececec"/>
<rect x="61.70" y="254.50" width="2.95" height="18.70" fill="#767676" stroke="#111" stroke-width="0.55"/>
<path d="M63.18 254.50 V253.30 M62.48 253.30 H63.88" stroke="#111" stroke-width="0.5" fill="none"/>
<rect x="65.20" y="249.30" width="2.95" height="23.90" fill="#8e8e8e" stroke="#111" stroke-width="0.55"/>
<path d="M66.67 249.30 V248.00 M65.97 248.00 H67.38" stroke="#111" stroke-width="0.5" fill="none"/>
<rect x="71.50" y="272.30" width="2.95" height="0.90" fill="#4a4a4a" stroke="#111" stroke-width="0.55"/>
<rect x="75.00" y="264.00" width="2.95" height="9.20" fill="#1c1c1c" stroke="#111" stroke-width="0.55"/>
<rect x="75.97" y="271.15" width="1" height="0.9" fill="#ececec"/>
<rect x="75.97" y="269.15" width="1" height="0.9" fill="#ececec"/>
<rect x="75.97" y="267.15" width="1" height="0.9" fill="#ececec"/>
<rect x="75.97" y="265.15" width="1" height="0.9" fill="#ececec"/>
<rect x="78.50" y="267.00" width="2.95" height="6.20" fill="#767676" stroke="#111" stroke-width="0.55"/>
<rect x="82.00" y="259.50" width="2.95" height="13.70" fill="#8e8e8e" stroke="#111" stroke-width="0.55"/>
<path d="M83.47 259.50 V258.30 M82.77 258.30 H84.17" stroke="#111" stroke-width="0.5" fill="none"/>
<rect x="88.30" y="265.50" width="2.95" height="7.70" fill="#4a4a4a" stroke="#111" stroke-width="0.55"/>
<rect x="91.80" y="224.50" width="2.95" height="48.70" fill="#1c1c1c" stroke="#111" stroke-width="0.55"/>
<rect x="92.78" y="271.15" width="1" height="0.9" fill="#ececec"/>
<rect x="92.78" y="269.15" width="1" height="0.9" fill="#ececec"/>
<rect x="92.78" y="267.15" width="1" height="0.9" fill="#ececec"/>
<rect x="92.78" y="265.15" width="1" height="0.9" fill="#ececec"/>
<rect x="92.78" y="263.15" width="1" height="0.9" fill="#ececec"/>
<rect x="92.78" y="261.15" width="1" height="0.9" fill="#ececec"/>
<rect x="92.78" y="259.15" width="1" height="0.9" fill="#ececec"/>
<rect x="92.78" y="257.15" width="1" height="0.9" fill="#ececec"/>
<rect x="92.78" y="255.15" width="1" height="0.9" fill="#ececec"/>
<rect x="92.78" y="253.15" width="1" height="0.9" fill="#ececec"/>
<rect x="92.78" y="251.15" width="1" height="0.9" fill="#ececec"/>
<rect x="92.78" y="249.15" width="1" height="0.9" fill="#ececec"/>
<rect x="92.78" y="247.15" width="1" height="0.9" fill="#ececec"/>
<rect x="92.78" y="245.15" width="1" height="0.9" fill="#ececec"/>
<rect x="92.78" y="243.15" width="1" height="0.9" fill="#ececec"/>
<rect x="92.78" y="241.15" width="1" height="0.9" fill="#ececec"/>
<rect x="92.78" y="239.15" width="1" height="0.9" fill="#ececec"/>
<rect x="92.78" y="237.15" width="1" height="0.9" fill="#ececec"/>
<rect x="92.78" y="235.15" width="1" height="0.9" fill="#ececec"/>
<rect x="92.78" y="233.15" width="1" height="0.9" fill="#ececec"/>
<rect x="92.78" y="231.15" width="1" height="0.9" fill="#ececec"/>
<rect x="92.78" y="229.15" width="1" height="0.9" fill="#ececec"/>
<rect x="92.78" y="227.15" width="1" height="0.9" fill="#ececec"/>
<rect x="92.78" y="225.15" width="1" height="0.9" fill="#ececec"/>
<path d="M93.28 224.50 V223.80 M92.58 223.80 H93.98" stroke="#111" stroke-width="0.5" fill="none"/>
<rect x="95.30" y="221.50" width="2.95" height="51.70" fill="#767676" stroke="#111" stroke-width="0.55"/>
<path d="M96.78 221.50 V220.60 M96.08 220.60 H97.48" stroke="#111" stroke-width="0.5" fill="none"/>
<rect x="98.80" y="218.20" width="2.95" height="55.00" fill="#8e8e8e" stroke="#111" stroke-width="0.55"/>
<path d="M100.28 218.20 V214.00 M99.58 214.00 H100.98" stroke="#111" stroke-width="0.5" fill="none"/>
<rect x="105.10" y="273.00" width="2.95" height="0.20" fill="#4a4a4a" stroke="#111" stroke-width="0.55"/>
<rect x="108.60" y="270.00" width="2.95" height="3.20" fill="#1c1c1c" stroke="#111" stroke-width="0.55"/>
<rect x="109.57" y="271.15" width="1" height="0.9" fill="#ececec"/>
<rect x="112.10" y="262.00" width="2.95" height="11.20" fill="#767676" stroke="#111" stroke-width="0.55"/>
<path d="M113.57 262.00 V260.80 M112.87 260.80 H114.27" stroke="#111" stroke-width="0.5" fill="none"/>
<rect x="115.60" y="265.30" width="2.95" height="7.90" fill="#8e8e8e" stroke="#111" stroke-width="0.55"/>
<line x1="19.00" y1="273.20" x2="121.00" y2="273.20" stroke="#111" stroke-width="0.9"/>
<line x1="27.70" y1="273.20" x2="27.70" y2="275.00" stroke="#111" stroke-width="0.6"/>
<text transform="translate(26.30 278.50) rotate(45)" font-size="4.9" font-weight="bold" text-anchor="start" fill="#111">CD25</text>
<line x1="44.42" y1="273.20" x2="44.42" y2="275.00" stroke="#111" stroke-width="0.6"/>
<text transform="translate(43.02 278.50) rotate(45)" font-size="4.9" font-weight="bold" text-anchor="start" fill="#111">CD30</text>
<line x1="61.14" y1="273.20" x2="61.14" y2="275.00" stroke="#111" stroke-width="0.6"/>
<text transform="translate(59.74 278.50) rotate(45)" font-size="4.9" font-weight="bold" text-anchor="start" fill="#111">CD69</text>
<line x1="77.86" y1="273.20" x2="77.86" y2="275.00" stroke="#111" stroke-width="0.6"/>
<text transform="translate(76.46 278.50) rotate(45)" font-size="4.9" font-weight="bold" text-anchor="start" fill="#111">KLRG1</text>
<line x1="94.58" y1="273.20" x2="94.58" y2="275.00" stroke="#111" stroke-width="0.6"/>
<text transform="translate(93.18 278.50) rotate(45)" font-size="4.9" font-weight="bold" text-anchor="start" fill="#111">PD-1</text>
<line x1="111.30" y1="273.20" x2="111.30" y2="275.00" stroke="#111" stroke-width="0.6"/>
<text transform="translate(109.90 278.50) rotate(45)" font-size="4.9" font-weight="bold" text-anchor="start" fill="#111">IFN-γ</text>
<text transform="translate(27.20 220.06)" font-size="4.6" font-weight="bold" text-anchor="middle" fill="#111">*,#,&amp;</text>
<text transform="translate(43.80 262.26)" font-size="4.6" font-weight="bold" text-anchor="middle" fill="#111">*,#,&amp;</text>
<text transform="translate(60.70 248.36)" font-size="4.6" font-weight="bold" text-anchor="middle" fill="#111">*,#,&amp;</text>
<text transform="translate(79.00 258.16)" font-size="4.6" font-weight="bold" text-anchor="middle" fill="#111">*,#,&amp;</text>
<text transform="translate(96.30 214.36)" font-size="4.6" font-weight="bold" text-anchor="middle" fill="#111">*</text>
<text transform="translate(113.60 257.46)" font-size="4.6" font-weight="bold" text-anchor="middle" fill="#111">*,#</text>
<rect x="41.30" y="209.40" width="10.50" height="3.60" rx="0.6" fill="#161616"/>
<rect x="42.60" y="210.85" width="7.90" height="0.7" fill="#8a8a8a"/>
<text transform="translate(53.10 213.17)" font-size="4.5" font-weight="bold" text-anchor="start" fill="#111">B6 CD45.1</text>
<rect x="41.30" y="213.40" width="10.50" height="3.60" rx="0.6" fill="#161616"/>
<rect x="42.70" y="214.75" width="1.1" height="0.9" fill="#e0e0e0"/>
<rect x="44.90" y="214.75" width="1.1" height="0.9" fill="#e0e0e0"/>
<rect x="47.10" y="214.75" width="1.1" height="0.9" fill="#e0e0e0"/>
<rect x="49.30" y="214.75" width="1.1" height="0.9" fill="#e0e0e0"/>
<text transform="translate(53.10 217.17)" font-size="4.5" font-weight="bold" text-anchor="start" fill="#111">Bulk</text>
<rect x="41.30" y="217.80" width="10.50" height="3.60" rx="0.6" fill="#161616"/>
<rect x="42.30" y="218.80" width="8.50" height="1.6" rx="0.4" fill="#8c8c8c"/>
<text transform="translate(53.10 221.57)" font-size="4.5" font-weight="bold" text-anchor="start" fill="#111">CD62L+</text>
<rect x="41.30" y="222.00" width="10.50" height="3.60" rx="0.6" fill="#161616"/>
<rect x="42.40" y="223.35" width="1.2" height="0.9" fill="#d8d8d8"/>
<rect x="44.15" y="223.35" width="1.2" height="0.9" fill="#d8d8d8"/>
<rect x="45.90" y="223.35" width="1.2" height="0.9" fill="#d8d8d8"/>
<rect x="47.65" y="223.35" width="1.2" height="0.9" fill="#d8d8d8"/>
<rect x="49.40" y="223.35" width="1.2" height="0.9" fill="#d8d8d8"/>
<text transform="translate(53.10 225.77)" font-size="4.5" font-weight="bold" text-anchor="start" fill="#111">CD62L-</text>
<line x1="135.80" y1="204.80" x2="135.80" y2="234.80" stroke="#111" stroke-width="0.9"/>
<line x1="135.80" y1="237.60" x2="135.80" y2="272.90" stroke="#111" stroke-width="0.9"/>
<line x1="133.30" y1="272.90" x2="135.80" y2="272.90" stroke="#111" stroke-width="0.6"/>
<text transform="translate(132.80 274.56) scale(0.85 1)" font-size="4.6" font-weight="bold" text-anchor="end" fill="#111">0</text>
<line x1="133.30" y1="266.16" x2="135.80" y2="266.16" stroke="#111" stroke-width="0.6"/>
<text transform="translate(132.80 267.82) scale(0.85 1)" font-size="4.6" font-weight="bold" text-anchor="end" fill="#111">1000</text>
<line x1="133.30" y1="259.42" x2="135.80" y2="259.42" stroke="#111" stroke-width="0.6"/>
<text transform="translate(132.80 261.08) scale(0.85 1)" font-size="4.6" font-weight="bold" text-anchor="end" fill="#111">2000</text>
<line x1="133.30" y1="252.68" x2="135.80" y2="252.68" stroke="#111" stroke-width="0.6"/>
<text transform="translate(132.80 254.34) scale(0.85 1)" font-size="4.6" font-weight="bold" text-anchor="end" fill="#111">3000</text>
<line x1="133.30" y1="245.94" x2="135.80" y2="245.94" stroke="#111" stroke-width="0.6"/>
<text transform="translate(132.80 247.60) scale(0.85 1)" font-size="4.6" font-weight="bold" text-anchor="end" fill="#111">4000</text>
<line x1="133.30" y1="239.20" x2="135.80" y2="239.20" stroke="#111" stroke-width="0.6"/>
<text transform="translate(132.80 240.86) scale(0.85 1)" font-size="4.6" font-weight="bold" text-anchor="end" fill="#111">5000</text>
<line x1="133.30" y1="233.50" x2="135.80" y2="233.50" stroke="#111" stroke-width="0.6"/>
<text transform="translate(132.80 235.16) scale(0.85 1)" font-size="4.6" font-weight="bold" text-anchor="end" fill="#111">6000</text>
<line x1="133.30" y1="219.30" x2="135.80" y2="219.30" stroke="#111" stroke-width="0.6"/>
<text transform="translate(132.80 220.96) scale(0.85 1)" font-size="4.6" font-weight="bold" text-anchor="end" fill="#111">8000</text>
<line x1="133.30" y1="205.10" x2="135.80" y2="205.10" stroke="#111" stroke-width="0.6"/>
<text transform="translate(132.80 206.76) scale(0.85 1)" font-size="4.6" font-weight="bold" text-anchor="end" fill="#111">10000</text>
<rect x="137.30" y="268.70" width="2.90" height="3.90" fill="#4a4a4a" stroke="#111" stroke-width="0.55"/>
<rect x="140.75" y="258.80" width="2.90" height="13.80" fill="#1c1c1c" stroke="#111" stroke-width="0.55"/>
<rect x="141.70" y="270.55" width="1" height="0.9" fill="#ececec"/>
<rect x="141.70" y="268.55" width="1" height="0.9" fill="#ececec"/>
<rect x="141.70" y="266.55" width="1" height="0.9" fill="#ececec"/>
<rect x="141.70" y="264.55" width="1" height="0.9" fill="#ececec"/>
<rect x="141.70" y="262.55" width="1" height="0.9" fill="#ececec"/>
<rect x="141.70" y="260.55" width="1" height="0.9" fill="#ececec"/>
<path d="M142.20 258.80 V257.00 M141.50 257.00 H142.90" stroke="#111" stroke-width="0.5" fill="none"/>
<rect x="144.20" y="263.40" width="2.90" height="9.20" fill="#767676" stroke="#111" stroke-width="0.55"/>
<rect x="147.65" y="240.90" width="2.90" height="31.70" fill="#8e8e8e" stroke="#111" stroke-width="0.55"/>
<path d="M149.10 240.90 V239.00 M148.40 239.00 H149.80" stroke="#111" stroke-width="0.5" fill="none"/>
<rect x="153.26" y="272.50" width="2.90" height="0.10" fill="#4a4a4a" stroke="#111" stroke-width="0.55"/>
<rect x="156.71" y="268.70" width="2.90" height="3.90" fill="#1c1c1c" stroke="#111" stroke-width="0.55"/>
<rect x="157.66" y="270.55" width="1" height="0.9" fill="#ececec"/>
<rect x="160.16" y="268.70" width="2.90" height="3.90" fill="#767676" stroke="#111" stroke-width="0.55"/>
<rect x="163.61" y="265.10" width="2.90" height="7.50" fill="#8e8e8e" stroke="#111" stroke-width="0.55"/>
<rect x="169.22" y="270.40" width="2.90" height="2.20" fill="#4a4a4a" stroke="#111" stroke-width="0.55"/>
<rect x="172.67" y="266.60" width="2.90" height="6.00" fill="#1c1c1c" stroke="#111" stroke-width="0.55"/>
<rect x="173.62" y="270.55" width="1" height="0.9" fill="#ececec"/>
<rect x="173.62" y="268.55" width="1" height="0.9" fill="#ececec"/>
<rect x="176.12" y="264.50" width="2.90" height="8.10" fill="#767676" stroke="#111" stroke-width="0.55"/>
<rect x="179.57" y="262.40" width="2.90" height="10.20" fill="#8e8e8e" stroke="#111" stroke-width="0.55"/>
<rect x="185.18" y="271.20" width="2.90" height="1.40" fill="#4a4a4a" stroke="#111" stroke-width="0.55"/>
<rect x="188.63" y="263.40" width="2.90" height="9.20" fill="#1c1c1c" stroke="#111" stroke-width="0.55"/>
<rect x="189.58" y="270.55" width="1" height="0.9" fill="#ececec"/>
<rect x="189.58" y="268.55" width="1" height="0.9" fill="#ececec"/>
<rect x="189.58" y="266.55" width="1" height="0.9" fill="#ececec"/>
<rect x="189.58" y="264.55" width="1" height="0.9" fill="#ececec"/>
<rect x="192.08" y="266.60" width="2.90" height="6.00" fill="#767676" stroke="#111" stroke-width="0.55"/>
<rect x="195.53" y="257.10" width="2.90" height="15.50" fill="#8e8e8e" stroke="#111" stroke-width="0.55"/>
<path d="M196.98 257.10 V255.50 M196.28 255.50 H197.68" stroke="#111" stroke-width="0.5" fill="none"/>
<rect x="201.14" y="266.60" width="2.90" height="6.00" fill="#4a4a4a" stroke="#111" stroke-width="0.55"/>
<rect x="204.59" y="226.60" width="2.90" height="46.00" fill="#1c1c1c" stroke="#111" stroke-width="0.55"/>
<rect x="205.54" y="270.55" width="1" height="0.9" fill="#ececec"/>
<rect x="205.54" y="268.55" width="1" height="0.9" fill="#ececec"/>
<rect x="205.54" y="266.55" width="1" height="0.9" fill="#ececec"/>
<rect x="205.54" y="264.55" width="1" height="0.9" fill="#ececec"/>
<rect x="205.54" y="262.55" width="1" height="0.9" fill="#ececec"/>
<rect x="205.54" y="260.55" width="1" height="0.9" fill="#ececec"/>
<rect x="205.54" y="258.55" width="1" height="0.9" fill="#ececec"/>
<rect x="205.54" y="256.55" width="1" height="0.9" fill="#ececec"/>
<rect x="205.54" y="254.55" width="1" height="0.9" fill="#ececec"/>
<rect x="205.54" y="252.55" width="1" height="0.9" fill="#ececec"/>
<rect x="205.54" y="250.55" width="1" height="0.9" fill="#ececec"/>
<rect x="205.54" y="248.55" width="1" height="0.9" fill="#ececec"/>
<rect x="205.54" y="246.55" width="1" height="0.9" fill="#ececec"/>
<rect x="205.54" y="244.55" width="1" height="0.9" fill="#ececec"/>
<rect x="205.54" y="242.55" width="1" height="0.9" fill="#ececec"/>
<rect x="205.54" y="240.55" width="1" height="0.9" fill="#ececec"/>
<rect x="205.54" y="238.55" width="1" height="0.9" fill="#ececec"/>
<rect x="205.54" y="236.55" width="1" height="0.9" fill="#ececec"/>
<rect x="205.54" y="234.55" width="1" height="0.9" fill="#ececec"/>
<rect x="205.54" y="232.55" width="1" height="0.9" fill="#ececec"/>
<rect x="205.54" y="230.55" width="1" height="0.9" fill="#ececec"/>
<rect x="205.54" y="228.55" width="1" height="0.9" fill="#ececec"/>
<rect x="203.99" y="234.30" width="4.10" height="3.80" fill="#fff"/>
<path d="M206.04 226.60 V224.00 M205.34 224.00 H206.74" stroke="#111" stroke-width="0.5" fill="none"/>
<rect x="208.04" y="221.30" width="2.90" height="51.30" fill="#767676" stroke="#111" stroke-width="0.55"/>
<rect x="207.44" y="234.30" width="4.10" height="3.80" fill="#fff"/>
<path d="M209.49 221.30 V217.70 M208.79 217.70 H210.19" stroke="#111" stroke-width="0.5" fill="none"/>
<rect x="211.49" y="216.00" width="2.90" height="56.60" fill="#8e8e8e" stroke="#111" stroke-width="0.55"/>
<rect x="210.89" y="234.30" width="4.10" height="3.80" fill="#fff"/>
<path d="M212.94 216.00 V208.00 M212.24 208.00 H213.64" stroke="#111" stroke-width="0.5" fill="none"/>
<rect x="217.10" y="271.20" width="2.90" height="1.40" fill="#4a4a4a" stroke="#111" stroke-width="0.55"/>
<rect x="220.55" y="265.50" width="2.90" height="7.10" fill="#1c1c1c" stroke="#111" stroke-width="0.55"/>
<rect x="221.50" y="270.55" width="1" height="0.9" fill="#ececec"/>
<rect x="221.50" y="268.55" width="1" height="0.9" fill="#ececec"/>
<rect x="221.50" y="266.55" width="1" height="0.9" fill="#ececec"/>
<rect x="224.00" y="257.10" width="2.90" height="15.50" fill="#767676" stroke="#111" stroke-width="0.55"/>
<rect x="227.45" y="257.10" width="2.90" height="15.50" fill="#8e8e8e" stroke="#111" stroke-width="0.55"/>
<line x1="135.40" y1="272.60" x2="232.00" y2="272.60" stroke="#111" stroke-width="0.9"/>
<line x1="143.80" y1="272.60" x2="143.80" y2="274.40" stroke="#111" stroke-width="0.6"/>
<text transform="translate(142.40 277.90) rotate(45)" font-size="4.9" font-weight="bold" text-anchor="start" fill="#111">CD25</text>
<line x1="159.86" y1="272.60" x2="159.86" y2="274.40" stroke="#111" stroke-width="0.6"/>
<text transform="translate(158.46 277.90) rotate(45)" font-size="4.9" font-weight="bold" text-anchor="start" fill="#111">CD30</text>
<line x1="175.92" y1="272.60" x2="175.92" y2="274.40" stroke="#111" stroke-width="0.6"/>
<text transform="translate(174.52 277.90) rotate(45)" font-size="4.9" font-weight="bold" text-anchor="start" fill="#111">CD69</text>
<line x1="191.98" y1="272.60" x2="191.98" y2="274.40" stroke="#111" stroke-width="0.6"/>
<text transform="translate(190.58 277.90) rotate(45)" font-size="4.9" font-weight="bold" text-anchor="start" fill="#111">KLRG1</text>
<line x1="208.04" y1="272.60" x2="208.04" y2="274.40" stroke="#111" stroke-width="0.6"/>
<text transform="translate(206.64 277.90) rotate(45)" font-size="4.9" font-weight="bold" text-anchor="start" fill="#111">PD-1</text>
<line x1="224.10" y1="272.60" x2="224.10" y2="274.40" stroke="#111" stroke-width="0.6"/>
<text transform="translate(222.70 277.90) rotate(45)" font-size="4.9" font-weight="bold" text-anchor="start" fill="#111">IFN-γ</text>
<text transform="translate(145.70 236.86)" font-size="4.6" font-weight="bold" text-anchor="middle" fill="#111">*,#,&amp;</text>
<text transform="translate(160.00 264.26)" font-size="4.6" font-weight="bold" text-anchor="middle" fill="#111">*,#,&amp;</text>
<text transform="translate(177.60 260.86)" font-size="4.6" font-weight="bold" text-anchor="middle" fill="#111">*,#</text>
<text transform="translate(193.70 254.56)" font-size="4.6" font-weight="bold" text-anchor="middle" fill="#111">*,#,&amp;</text>
<text transform="translate(212.90 212.56)" font-size="4.6" font-weight="bold" text-anchor="middle" fill="#111">*</text>
<text transform="translate(209.60 218.66)" font-size="4.6" font-weight="bold" text-anchor="middle" fill="#111">*,#</text>
<text transform="translate(225.30 252.46)" font-size="4.6" font-weight="bold" text-anchor="middle" fill="#111">*,#</text>
<rect x="155.30" y="209.30" width="10.50" height="3.60" rx="0.6" fill="#161616"/>
<rect x="156.60" y="210.75" width="7.90" height="0.7" fill="#8a8a8a"/>
<text transform="translate(166.80 213.07)" font-size="4.5" font-weight="bold" text-anchor="start" fill="#111">B6 CD45.1</text>
<rect x="155.30" y="213.60" width="10.50" height="3.60" rx="0.6" fill="#161616"/>
<rect x="156.70" y="214.95" width="1.1" height="0.9" fill="#e0e0e0"/>
<rect x="158.90" y="214.95" width="1.1" height="0.9" fill="#e0e0e0"/>
<rect x="161.10" y="214.95" width="1.1" height="0.9" fill="#e0e0e0"/>
<rect x="163.30" y="214.95" width="1.1" height="0.9" fill="#e0e0e0"/>
<text transform="translate(166.80 217.37)" font-size="4.5" font-weight="bold" text-anchor="start" fill="#111">Bulk</text>
<rect x="155.30" y="218.20" width="10.50" height="3.60" rx="0.6" fill="#161616"/>
<rect x="156.30" y="219.20" width="8.50" height="1.6" rx="0.4" fill="#8c8c8c"/>
<text transform="translate(166.80 221.97)" font-size="4.5" font-weight="bold" text-anchor="start" fill="#111">CD62L+</text>
<rect x="155.30" y="222.60" width="10.50" height="3.60" rx="0.6" fill="#161616"/>
<rect x="156.40" y="223.95" width="1.2" height="0.9" fill="#d8d8d8"/>
<rect x="158.15" y="223.95" width="1.2" height="0.9" fill="#d8d8d8"/>
<rect x="159.90" y="223.95" width="1.2" height="0.9" fill="#d8d8d8"/>
<rect x="161.65" y="223.95" width="1.2" height="0.9" fill="#d8d8d8"/>
<rect x="163.40" y="223.95" width="1.2" height="0.9" fill="#d8d8d8"/>
<text transform="translate(166.80 226.37)" font-size="4.5" font-weight="bold" text-anchor="start" fill="#111">CD62L-</text>
<line x1="83.20" y1="312.00" x2="83.20" y2="342.30" stroke="#111" stroke-width="0.9"/>
<line x1="83.20" y1="344.20" x2="83.20" y2="378.00" stroke="#111" stroke-width="0.9"/>
<line x1="80.70" y1="378.00" x2="83.20" y2="378.00" stroke="#111" stroke-width="0.6"/>
<text transform="translate(79.90 379.66) scale(0.85 1)" font-size="4.6" font-weight="bold" text-anchor="end" fill="#111">0</text>
<line x1="80.70" y1="372.50" x2="83.20" y2="372.50" stroke="#111" stroke-width="0.6"/>
<text transform="translate(79.90 374.16) scale(0.85 1)" font-size="4.6" font-weight="bold" text-anchor="end" fill="#111">1500</text>
<line x1="80.70" y1="367.00" x2="83.20" y2="367.00" stroke="#111" stroke-width="0.6"/>
<text transform="translate(79.90 368.66) scale(0.85 1)" font-size="4.6" font-weight="bold" text-anchor="end" fill="#111">3000</text>
<line x1="80.70" y1="361.50" x2="83.20" y2="361.50" stroke="#111" stroke-width="0.6"/>
<text transform="translate(79.90 363.16) scale(0.85 1)" font-size="4.6" font-weight="bold" text-anchor="end" fill="#111">4500</text>
<line x1="80.70" y1="356.00" x2="83.20" y2="356.00" stroke="#111" stroke-width="0.6"/>
<text transform="translate(79.90 357.66) scale(0.85 1)" font-size="4.6" font-weight="bold" text-anchor="end" fill="#111">6000</text>
<line x1="80.70" y1="350.50" x2="83.20" y2="350.50" stroke="#111" stroke-width="0.6"/>
<text transform="translate(79.90 352.16) scale(0.85 1)" font-size="4.6" font-weight="bold" text-anchor="end" fill="#111">7500</text>
<line x1="80.70" y1="345.00" x2="83.20" y2="345.00" stroke="#111" stroke-width="0.6"/>
<text transform="translate(79.90 346.66) scale(0.85 1)" font-size="4.6" font-weight="bold" text-anchor="end" fill="#111">9000</text>
<line x1="80.70" y1="340.70" x2="83.20" y2="340.70" stroke="#111" stroke-width="0.6"/>
<text transform="translate(79.90 342.36) scale(0.85 1)" font-size="4.6" font-weight="bold" text-anchor="end" fill="#111">10000</text>
<line x1="80.70" y1="326.50" x2="83.20" y2="326.50" stroke="#111" stroke-width="0.6"/>
<text transform="translate(79.90 328.16) scale(0.85 1)" font-size="4.6" font-weight="bold" text-anchor="end" fill="#111">14000</text>
<line x1="80.70" y1="312.30" x2="83.20" y2="312.30" stroke="#111" stroke-width="0.6"/>
<text transform="translate(79.90 313.96) scale(0.85 1)" font-size="4.6" font-weight="bold" text-anchor="end" fill="#111">18000</text>
<rect x="85.20" y="352.80" width="2.85" height="25.30" fill="#4a4a4a" stroke="#111" stroke-width="0.55"/>
<rect x="88.60" y="334.50" width="2.85" height="43.60" fill="#1c1c1c" stroke="#111" stroke-width="0.55"/>
<rect x="89.52" y="376.05" width="1" height="0.9" fill="#ececec"/>
<rect x="89.52" y="374.05" width="1" height="0.9" fill="#ececec"/>
<rect x="89.52" y="372.05" width="1" height="0.9" fill="#ececec"/>
<rect x="89.52" y="370.05" width="1" height="0.9" fill="#ececec"/>
<rect x="89.52" y="368.05" width="1" height="0.9" fill="#ececec"/>
<rect x="89.52" y="366.05" width="1" height="0.9" fill="#ececec"/>
<rect x="89.52" y="364.05" width="1" height="0.9" fill="#ececec"/>
<rect x="89.52" y="362.05" width="1" height="0.9" fill="#ececec"/>
<rect x="89.52" y="360.05" width="1" height="0.9" fill="#ececec"/>
<rect x="89.52" y="358.05" width="1" height="0.9" fill="#ececec"/>
<rect x="89.52" y="356.05" width="1" height="0.9" fill="#ececec"/>
<rect x="89.52" y="354.05" width="1" height="0.9" fill="#ececec"/>
<rect x="89.52" y="352.05" width="1" height="0.9" fill="#ececec"/>
<rect x="89.52" y="350.05" width="1" height="0.9" fill="#ececec"/>
<rect x="89.52" y="348.05" width="1" height="0.9" fill="#ececec"/>
<rect x="89.52" y="346.05" width="1" height="0.9" fill="#ececec"/>
<rect x="89.52" y="344.05" width="1" height="0.9" fill="#ececec"/>
<rect x="89.52" y="342.05" width="1" height="0.9" fill="#ececec"/>
<rect x="89.52" y="340.05" width="1" height="0.9" fill="#ececec"/>
<rect x="89.52" y="338.05" width="1" height="0.9" fill="#ececec"/>
<rect x="89.52" y="336.05" width="1" height="0.9" fill="#ececec"/>
<rect x="88.00" y="341.00" width="4.05" height="4.50" fill="#fff"/>
<path d="M90.02 334.50 V322.30 M89.32 322.30 H90.72" stroke="#111" stroke-width="0.5" fill="none"/>
<rect x="92.00" y="351.00" width="2.85" height="27.10" fill="#767676" stroke="#111" stroke-width="0.55"/>
<rect x="95.40" y="330.50" width="2.85" height="47.60" fill="#8e8e8e" stroke="#111" stroke-width="0.55"/>
<rect x="94.80" y="341.00" width="4.05" height="4.50" fill="#fff"/>
<path d="M96.83 330.50 V323.50 M96.12 323.50 H97.53" stroke="#111" stroke-width="0.5" fill="none"/>
<rect x="101.65" y="377.50" width="2.85" height="0.60" fill="#4a4a4a" stroke="#111" stroke-width="0.55"/>
<rect x="105.05" y="376.00" width="2.85" height="2.10" fill="#1c1c1c" stroke="#111" stroke-width="0.55"/>
<rect x="108.45" y="376.70" width="2.85" height="1.40" fill="#767676" stroke="#111" stroke-width="0.55"/>
<rect x="111.85" y="371.80" width="2.85" height="6.30" fill="#8e8e8e" stroke="#111" stroke-width="0.55"/>
<rect x="118.10" y="366.80" width="2.85" height="11.30" fill="#4a4a4a" stroke="#111" stroke-width="0.55"/>
<rect x="121.50" y="364.70" width="2.85" height="13.40" fill="#1c1c1c" stroke="#111" stroke-width="0.55"/>
<rect x="122.42" y="376.05" width="1" height="0.9" fill="#ececec"/>
<rect x="122.42" y="374.05" width="1" height="0.9" fill="#ececec"/>
<rect x="122.42" y="372.05" width="1" height="0.9" fill="#ececec"/>
<rect x="122.42" y="370.05" width="1" height="0.9" fill="#ececec"/>
<rect x="122.42" y="368.05" width="1" height="0.9" fill="#ececec"/>
<rect x="122.42" y="366.05" width="1" height="0.9" fill="#ececec"/>
<rect x="124.90" y="360.00" width="2.85" height="18.10" fill="#767676" stroke="#111" stroke-width="0.55"/>
<rect x="128.30" y="357.30" width="2.85" height="20.80" fill="#8e8e8e" stroke="#111" stroke-width="0.55"/>
<path d="M129.73 357.30 V355.20 M129.03 355.20 H130.43" stroke="#111" stroke-width="0.5" fill="none"/>
<rect x="134.55" y="376.20" width="2.85" height="1.90" fill="#4a4a4a" stroke="#111" stroke-width="0.55"/>
<rect x="137.95" y="367.90" width="2.85" height="10.20" fill="#1c1c1c" stroke="#111" stroke-width="0.55"/>
<rect x="138.88" y="376.05" width="1" height="0.9" fill="#ececec"/>
<rect x="138.88" y="374.05" width="1" height="0.9" fill="#ececec"/>
<rect x="138.88" y="372.05" width="1" height="0.9" fill="#ececec"/>
<rect x="138.88" y="370.05" width="1" height="0.9" fill="#ececec"/>
<path d="M139.38 367.90 V365.00 M138.68 365.00 H140.07" stroke="#111" stroke-width="0.5" fill="none"/>
<rect x="141.35" y="371.70" width="2.85" height="6.40" fill="#767676" stroke="#111" stroke-width="0.55"/>
<rect x="144.75" y="363.50" width="2.85" height="14.60" fill="#8e8e8e" stroke="#111" stroke-width="0.55"/>
<path d="M146.18 363.50 V361.50 M145.48 361.50 H146.88" stroke="#111" stroke-width="0.5" fill="none"/>
<rect x="151.00" y="360.00" width="2.85" height="18.10" fill="#4a4a4a" stroke="#111" stroke-width="0.55"/>
<rect x="154.40" y="325.60" width="2.85" height="52.50" fill="#1c1c1c" stroke="#111" stroke-width="0.55"/>
<rect x="155.33" y="376.05" width="1" height="0.9" fill="#ececec"/>
<rect x="155.33" y="374.05" width="1" height="0.9" fill="#ececec"/>
<rect x="155.33" y="372.05" width="1" height="0.9" fill="#ececec"/>
<rect x="155.33" y="370.05" width="1" height="0.9" fill="#ececec"/>
<rect x="155.33" y="368.05" width="1" height="0.9" fill="#ececec"/>
<rect x="155.33" y="366.05" width="1" height="0.9" fill="#ececec"/>
<rect x="155.33" y="364.05" width="1" height="0.9" fill="#ececec"/>
<rect x="155.33" y="362.05" width="1" height="0.9" fill="#ececec"/>
<rect x="155.33" y="360.05" width="1" height="0.9" fill="#ececec"/>
<rect x="155.33" y="358.05" width="1" height="0.9" fill="#ececec"/>
<rect x="155.33" y="356.05" width="1" height="0.9" fill="#ececec"/>
<rect x="155.33" y="354.05" width="1" height="0.9" fill="#ececec"/>
<rect x="155.33" y="352.05" width="1" height="0.9" fill="#ececec"/>
<rect x="155.33" y="350.05" width="1" height="0.9" fill="#ececec"/>
<rect x="155.33" y="348.05" width="1" height="0.9" fill="#ececec"/>
<rect x="155.33" y="346.05" width="1" height="0.9" fill="#ececec"/>
<rect x="155.33" y="344.05" width="1" height="0.9" fill="#ececec"/>
<rect x="155.33" y="342.05" width="1" height="0.9" fill="#ececec"/>
<rect x="155.33" y="340.05" width="1" height="0.9" fill="#ececec"/>
<rect x="155.33" y="338.05" width="1" height="0.9" fill="#ececec"/>
<rect x="155.33" y="336.05" width="1" height="0.9" fill="#ececec"/>
<rect x="155.33" y="334.05" width="1" height="0.9" fill="#ececec"/>
<rect x="155.33" y="332.05" width="1" height="0.9" fill="#ececec"/>
<rect x="155.33" y="330.05" width="1" height="0.9" fill="#ececec"/>
<rect x="155.33" y="328.05" width="1" height="0.9" fill="#ececec"/>
<rect x="155.33" y="326.05" width="1" height="0.9" fill="#ececec"/>
<rect x="153.80" y="341.00" width="4.05" height="4.50" fill="#fff"/>
<path d="M155.83 325.60 V316.00 M155.13 316.00 H156.53" stroke="#111" stroke-width="0.5" fill="none"/>
<rect x="157.80" y="331.20" width="2.85" height="46.90" fill="#767676" stroke="#111" stroke-width="0.55"/>
<rect x="157.20" y="341.00" width="4.05" height="4.50" fill="#fff"/>
<path d="M159.23 331.20 V329.50 M158.53 329.50 H159.93" stroke="#111" stroke-width="0.5" fill="none"/>
<rect x="161.20" y="322.30" width="2.85" height="55.80" fill="#8e8e8e" stroke="#111" stroke-width="0.55"/>
<rect x="160.60" y="341.00" width="4.05" height="4.50" fill="#fff"/>
<path d="M162.63 322.30 V316.00 M161.93 316.00 H163.33" stroke="#111" stroke-width="0.5" fill="none"/>
<rect x="167.45" y="377.00" width="2.85" height="1.10" fill="#4a4a4a" stroke="#111" stroke-width="0.55"/>
<rect x="170.85" y="375.50" width="2.85" height="2.60" fill="#1c1c1c" stroke="#111" stroke-width="0.55"/>
<rect x="171.78" y="376.05" width="1" height="0.9" fill="#ececec"/>
<rect x="174.25" y="372.40" width="2.85" height="5.70" fill="#767676" stroke="#111" stroke-width="0.55"/>
<rect x="177.65" y="373.50" width="2.85" height="4.60" fill="#8e8e8e" stroke="#111" stroke-width="0.55"/>
<line x1="82.80" y1="378.10" x2="183.00" y2="378.10" stroke="#111" stroke-width="0.9"/>
<line x1="92.00" y1="378.10" x2="92.00" y2="379.90" stroke="#111" stroke-width="0.6"/>
<text transform="translate(90.60 383.40) rotate(45)" font-size="4.9" font-weight="bold" text-anchor="start" fill="#111">CD25</text>
<line x1="108.45" y1="378.10" x2="108.45" y2="379.90" stroke="#111" stroke-width="0.6"/>
<text transform="translate(107.05 383.40) rotate(45)" font-size="4.9" font-weight="bold" text-anchor="start" fill="#111">CD30</text>
<line x1="124.90" y1="378.10" x2="124.90" y2="379.90" stroke="#111" stroke-width="0.6"/>
<text transform="translate(123.50 383.40) rotate(45)" font-size="4.9" font-weight="bold" text-anchor="start" fill="#111">CD69</text>
<line x1="141.35" y1="378.10" x2="141.35" y2="379.90" stroke="#111" stroke-width="0.6"/>
<text transform="translate(139.95 383.40) rotate(45)" font-size="4.9" font-weight="bold" text-anchor="start" fill="#111">KLRG1</text>
<line x1="157.80" y1="378.10" x2="157.80" y2="379.90" stroke="#111" stroke-width="0.6"/>
<text transform="translate(156.40 383.40) rotate(45)" font-size="4.9" font-weight="bold" text-anchor="start" fill="#111">PD-1</text>
<line x1="174.25" y1="378.10" x2="174.25" y2="379.90" stroke="#111" stroke-width="0.6"/>
<text transform="translate(172.85 383.40) rotate(45)" font-size="4.9" font-weight="bold" text-anchor="start" fill="#111">IFN-γ</text>
<text transform="translate(94.20 319.86)" font-size="4.6" font-weight="bold" text-anchor="middle" fill="#111">*,&amp;</text>
<text transform="translate(107.50 368.96)" font-size="4.6" font-weight="bold" text-anchor="middle" fill="#111">*,#,&amp;</text>
<text transform="translate(125.60 353.36)" font-size="4.6" font-weight="bold" text-anchor="middle" fill="#111">*,#</text>
<text transform="translate(141.10 361.36)" font-size="4.6" font-weight="bold" text-anchor="middle" fill="#111">*,#,&amp;</text>
<text transform="translate(158.50 315.06)" font-size="4.6" font-weight="bold" text-anchor="middle" fill="#111">*</text>
<text transform="translate(175.60 369.56)" font-size="4.6" font-weight="bold" text-anchor="middle" fill="#111">*,#</text>
<rect x="107.90" y="316.00" width="10.50" height="3.60" rx="0.6" fill="#161616"/>
<rect x="109.20" y="317.45" width="7.90" height="0.7" fill="#8a8a8a"/>
<text transform="translate(119.70 319.77)" font-size="4.5" font-weight="bold" text-anchor="start" fill="#111">B6 CD45.1</text>
<rect x="107.90" y="319.80" width="10.50" height="3.60" rx="0.6" fill="#161616"/>
<rect x="109.30" y="321.15" width="1.1" height="0.9" fill="#e0e0e0"/>
<rect x="111.50" y="321.15" width="1.1" height="0.9" fill="#e0e0e0"/>
<rect x="113.70" y="321.15" width="1.1" height="0.9" fill="#e0e0e0"/>
<rect x="115.90" y="321.15" width="1.1" height="0.9" fill="#e0e0e0"/>
<text transform="translate(119.70 323.57)" font-size="4.5" font-weight="bold" text-anchor="start" fill="#111">Bulk</text>
<rect x="107.90" y="325.00" width="10.50" height="3.60" rx="0.6" fill="#161616"/>
<rect x="108.90" y="326.00" width="8.50" height="1.6" rx="0.4" fill="#8c8c8c"/>
<text transform="translate(119.70 328.77)" font-size="4.5" font-weight="bold" text-anchor="start" fill="#111">CD62L+</text>
<rect x="107.90" y="329.00" width="10.50" height="3.60" rx="0.6" fill="#161616"/>
<rect x="109.00" y="330.35" width="1.2" height="0.9" fill="#d8d8d8"/>
<rect x="110.75" y="330.35" width="1.2" height="0.9" fill="#d8d8d8"/>
<rect x="112.50" y="330.35" width="1.2" height="0.9" fill="#d8d8d8"/>
<rect x="114.25" y="330.35" width="1.2" height="0.9" fill="#d8d8d8"/>
<rect x="116.00" y="330.35" width="1.2" height="0.9" fill="#d8d8d8"/>
<text transform="translate(119.70 332.77)" font-size="4.5" font-weight="bold" text-anchor="start" fill="#111">CD62L-</text>
<line x1="266.00" y1="205.50" x2="266.00" y2="234.80" stroke="#111" stroke-width="0.9"/>
<line x1="266.00" y1="237.00" x2="266.00" y2="271.30" stroke="#111" stroke-width="0.9"/>
<line x1="263.50" y1="271.30" x2="266.00" y2="271.30" stroke="#111" stroke-width="0.6"/>
<text transform="translate(262.40 272.96) scale(0.85 1)" font-size="4.6" font-weight="bold" text-anchor="end" fill="#111">0</text>
<line x1="263.50" y1="264.74" x2="266.00" y2="264.74" stroke="#111" stroke-width="0.6"/>
<text transform="translate(262.40 266.40) scale(0.85 1)" font-size="4.6" font-weight="bold" text-anchor="end" fill="#111">4</text>
<line x1="263.50" y1="258.18" x2="266.00" y2="258.18" stroke="#111" stroke-width="0.6"/>
<text transform="translate(262.40 259.84) scale(0.85 1)" font-size="4.6" font-weight="bold" text-anchor="end" fill="#111">8</text>
<line x1="263.50" y1="251.62" x2="266.00" y2="251.62" stroke="#111" stroke-width="0.6"/>
<text transform="translate(262.40 253.28) scale(0.85 1)" font-size="4.6" font-weight="bold" text-anchor="end" fill="#111">12</text>
<line x1="263.50" y1="245.06" x2="266.00" y2="245.06" stroke="#111" stroke-width="0.6"/>
<text transform="translate(262.40 246.72) scale(0.85 1)" font-size="4.6" font-weight="bold" text-anchor="end" fill="#111">16</text>
<line x1="263.50" y1="238.50" x2="266.00" y2="238.50" stroke="#111" stroke-width="0.6"/>
<text transform="translate(262.40 240.16) scale(0.85 1)" font-size="4.6" font-weight="bold" text-anchor="end" fill="#111">20</text>
<line x1="263.50" y1="233.60" x2="266.00" y2="233.60" stroke="#111" stroke-width="0.6"/>
<text transform="translate(262.40 235.26) scale(0.85 1)" font-size="4.6" font-weight="bold" text-anchor="end" fill="#111">30</text>
<line x1="263.50" y1="220.60" x2="266.00" y2="220.60" stroke="#111" stroke-width="0.6"/>
<text transform="translate(262.40 222.26) scale(0.85 1)" font-size="4.6" font-weight="bold" text-anchor="end" fill="#111">60</text>
<line x1="263.50" y1="205.80" x2="266.00" y2="205.80" stroke="#111" stroke-width="0.6"/>
<text transform="translate(262.40 207.46) scale(0.85 1)" font-size="4.6" font-weight="bold" text-anchor="end" fill="#111">100</text>
<rect x="271.27" y="265.00" width="2.15" height="6.10" fill="#4a4a4a" stroke="#111" stroke-width="0.55"/>
<rect x="273.97" y="265.20" width="1.85" height="5.90" fill="#1c1c1c" stroke="#111" stroke-width="0.55"/>
<rect x="274.39" y="269.05" width="1" height="0.9" fill="#ececec"/>
<rect x="274.39" y="267.05" width="1" height="0.9" fill="#ececec"/>
<rect x="276.37" y="265.20" width="1.65" height="5.90" fill="#767676" stroke="#111" stroke-width="0.55"/>
<rect x="278.57" y="261.30" width="2.05" height="9.80" fill="#8e8e8e" stroke="#111" stroke-width="0.55"/>
<rect x="287.27" y="264.00" width="2.05" height="7.10" fill="#4a4a4a" stroke="#111" stroke-width="0.55"/>
<rect x="289.87" y="265.20" width="1.85" height="5.90" fill="#1c1c1c" stroke="#111" stroke-width="0.55"/>
<rect x="290.30" y="269.05" width="1" height="0.9" fill="#ececec"/>
<rect x="290.30" y="267.05" width="1" height="0.9" fill="#ececec"/>
<rect x="292.27" y="265.20" width="1.55" height="5.90" fill="#767676" stroke="#111" stroke-width="0.55"/>
<rect x="294.37" y="250.10" width="2.45" height="21.00" fill="#8e8e8e" stroke="#111" stroke-width="0.55"/>
<path d="M295.60 250.10 V249.00 M294.90 249.00 H296.30" stroke="#111" stroke-width="0.5" fill="none"/>
<rect x="300.37" y="270.00" width="2.35" height="1.10" fill="#4a4a4a" stroke="#111" stroke-width="0.55"/>
<rect x="303.27" y="253.00" width="2.35" height="18.10" fill="#1c1c1c" stroke="#111" stroke-width="0.55"/>
<rect x="303.94" y="269.05" width="1" height="0.9" fill="#ececec"/>
<rect x="303.94" y="267.05" width="1" height="0.9" fill="#ececec"/>
<rect x="303.94" y="265.05" width="1" height="0.9" fill="#ececec"/>
<rect x="303.94" y="263.05" width="1" height="0.9" fill="#ececec"/>
<rect x="303.94" y="261.05" width="1" height="0.9" fill="#ececec"/>
<rect x="303.94" y="259.05" width="1" height="0.9" fill="#ececec"/>
<rect x="303.94" y="257.05" width="1" height="0.9" fill="#ececec"/>
<rect x="303.94" y="255.05" width="1" height="0.9" fill="#ececec"/>
<rect x="306.17" y="253.50" width="2.45" height="17.60" fill="#767676" stroke="#111" stroke-width="0.55"/>
<rect x="309.17" y="250.10" width="2.45" height="21.00" fill="#8e8e8e" stroke="#111" stroke-width="0.55"/>
<path d="M310.39 250.10 V249.00 M309.69 249.00 H311.09" stroke="#111" stroke-width="0.5" fill="none"/>
<rect x="317.27" y="270.50" width="2.45" height="0.60" fill="#4a4a4a" stroke="#111" stroke-width="0.55"/>
<rect x="320.27" y="258.00" width="2.95" height="13.10" fill="#1c1c1c" stroke="#111" stroke-width="0.55"/>
<rect x="321.25" y="269.05" width="1" height="0.9" fill="#ececec"/>
<rect x="321.25" y="267.05" width="1" height="0.9" fill="#ececec"/>
<rect x="321.25" y="265.05" width="1" height="0.9" fill="#ececec"/>
<rect x="321.25" y="263.05" width="1" height="0.9" fill="#ececec"/>
<rect x="321.25" y="261.05" width="1" height="0.9" fill="#ececec"/>
<rect x="321.25" y="259.05" width="1" height="0.9" fill="#ececec"/>
<rect x="323.77" y="249.00" width="2.75" height="22.10" fill="#767676" stroke="#111" stroke-width="0.55"/>
<path d="M325.14 249.00 V245.00 M324.44 245.00 H325.84" stroke="#111" stroke-width="0.5" fill="none"/>
<rect x="327.27" y="243.50" width="2.45" height="27.60" fill="#8e8e8e" stroke="#111" stroke-width="0.55"/>
<path d="M328.50 243.50 V242.50 M327.80 242.50 H329.19" stroke="#111" stroke-width="0.5" fill="none"/>
<rect x="336.27" y="269.50" width="2.45" height="1.60" fill="#4a4a4a" stroke="#111" stroke-width="0.55"/>
<rect x="340.07" y="267.50" width="2.65" height="3.60" fill="#767676" stroke="#111" stroke-width="0.55"/>
<rect x="343.57" y="225.60" width="2.85" height="45.50" fill="#8e8e8e" stroke="#111" stroke-width="0.55"/>
<rect x="342.97" y="233.80" width="4.05" height="4.20" fill="#fff"/>
<path d="M345.00 225.60 V224.50 M344.30 224.50 H345.69" stroke="#111" stroke-width="0.5" fill="none"/>
<rect x="352.77" y="266.00" width="2.45" height="5.10" fill="#1c1c1c" stroke="#111" stroke-width="0.55"/>
<rect x="353.50" y="269.05" width="1" height="0.9" fill="#ececec"/>
<rect x="353.50" y="267.05" width="1" height="0.9" fill="#ececec"/>
<rect x="356.27" y="262.00" width="2.85" height="9.10" fill="#767676" stroke="#111" stroke-width="0.55"/>
<rect x="359.87" y="206.60" width="2.65" height="64.50" fill="#8e8e8e" stroke="#111" stroke-width="0.55"/>
<rect x="359.27" y="233.80" width="3.85" height="4.20" fill="#fff"/>
<path d="M361.19 206.60 V205.60 M360.50 205.60 H361.89" stroke="#111" stroke-width="0.5" fill="none"/>
<line x1="265.60" y1="271.10" x2="364.50" y2="271.10" stroke="#111" stroke-width="0.9"/>
<line x1="274.20" y1="271.10" x2="274.20" y2="272.90" stroke="#111" stroke-width="0.6"/>
<text transform="translate(272.80 276.40) rotate(45)" font-size="4.6" font-weight="bold" text-anchor="start" fill="#111">Perforin</text>
<line x1="290.00" y1="271.10" x2="290.00" y2="272.90" stroke="#111" stroke-width="0.6"/>
<text transform="translate(288.60 276.40) rotate(45)" font-size="4.6" font-weight="bold" text-anchor="start" fill="#111">Granzyme B</text>
<line x1="306.40" y1="271.10" x2="306.40" y2="272.90" stroke="#111" stroke-width="0.6"/>
<text transform="translate(305.00 276.40) rotate(45)" font-size="4.6" font-weight="bold" text-anchor="start" fill="#111">CD107a</text>
<line x1="323.50" y1="271.10" x2="323.50" y2="272.90" stroke="#111" stroke-width="0.6"/>
<text transform="translate(322.10 276.40) rotate(45)" font-size="4.6" font-weight="bold" text-anchor="start" fill="#111">FasL</text>
<line x1="339.50" y1="271.10" x2="339.50" y2="272.90" stroke="#111" stroke-width="0.6"/>
<text transform="translate(338.10 276.40) rotate(45)" font-size="4.6" font-weight="bold" text-anchor="start" fill="#111">TRAIL</text>
<line x1="355.50" y1="271.10" x2="355.50" y2="272.90" stroke="#111" stroke-width="0.6"/>
<text transform="translate(354.10 276.40) rotate(45)" font-size="4.6" font-weight="bold" text-anchor="start" fill="#111">TNFα</text>
<text transform="translate(275.60 260.36)" font-size="4.6" font-weight="bold" text-anchor="middle" fill="#111">*,&amp;</text>
<text transform="translate(291.00 246.76)" font-size="4.6" font-weight="bold" text-anchor="middle" fill="#111">*,#,&amp;</text>
<text transform="translate(308.60 251.36)" font-size="4.6" font-weight="bold" text-anchor="middle" fill="#111">*</text>
<text transform="translate(326.30 243.26)" font-size="4.6" font-weight="bold" text-anchor="middle" fill="#111">*</text>
<text transform="translate(339.80 222.56)" font-size="4.6" font-weight="bold" text-anchor="middle" fill="#111">*,#,&amp;</text>
<text transform="translate(354.50 210.86)" font-size="4.6" font-weight="bold" text-anchor="middle" fill="#111">*,#,&amp;</text>
<rect x="276.30" y="209.40" width="11.00" height="3.60" rx="0.6" fill="#161616"/>
<rect x="277.60" y="210.85" width="8.40" height="0.7" fill="#8a8a8a"/>
<text transform="translate(288.30 213.13)" font-size="4.4" font-weight="bold" text-anchor="start" fill="#111">B6 CD45.1</text>
<rect x="276.30" y="213.90" width="11.00" height="3.60" rx="0.6" fill="#161616"/>
<rect x="277.70" y="215.25" width="1.1" height="0.9" fill="#e0e0e0"/>
<rect x="279.90" y="215.25" width="1.1" height="0.9" fill="#e0e0e0"/>
<rect x="282.10" y="215.25" width="1.1" height="0.9" fill="#e0e0e0"/>
<rect x="284.30" y="215.25" width="1.1" height="0.9" fill="#e0e0e0"/>
<text transform="translate(288.30 217.63)" font-size="4.4" font-weight="bold" text-anchor="start" fill="#111">Bulk</text>
<rect x="276.30" y="218.40" width="11.00" height="3.60" rx="0.6" fill="#161616"/>
<rect x="277.30" y="219.40" width="9.00" height="1.6" rx="0.4" fill="#8c8c8c"/>
<text transform="translate(288.30 222.13)" font-size="4.4" font-weight="bold" text-anchor="start" fill="#111">CD62L+</text>
<rect x="276.30" y="222.80" width="11.00" height="3.60" rx="0.6" fill="#161616"/>
<rect x="277.40" y="224.15" width="1.2" height="0.9" fill="#d8d8d8"/>
<rect x="279.15" y="224.15" width="1.2" height="0.9" fill="#d8d8d8"/>
<rect x="280.90" y="224.15" width="1.2" height="0.9" fill="#d8d8d8"/>
<rect x="282.65" y="224.15" width="1.2" height="0.9" fill="#d8d8d8"/>
<rect x="284.40" y="224.15" width="1.2" height="0.9" fill="#d8d8d8"/>
<text transform="translate(288.30 226.53)" font-size="4.4" font-weight="bold" text-anchor="start" fill="#111">CD62L-</text>
<line x1="384.30" y1="205.80" x2="384.30" y2="234.80" stroke="#111" stroke-width="0.9"/>
<line x1="384.30" y1="238.80" x2="384.30" y2="272.90" stroke="#111" stroke-width="0.9"/>
<line x1="381.80" y1="272.90" x2="384.30" y2="272.90" stroke="#111" stroke-width="0.6"/>
<text transform="translate(381.60 274.56) scale(0.85 1)" font-size="4.6" font-weight="bold" text-anchor="end" fill="#111">0</text>
<line x1="381.80" y1="267.25" x2="384.30" y2="267.25" stroke="#111" stroke-width="0.6"/>
<text transform="translate(381.60 268.91) scale(0.85 1)" font-size="4.6" font-weight="bold" text-anchor="end" fill="#111">500</text>
<line x1="381.80" y1="261.60" x2="384.30" y2="261.60" stroke="#111" stroke-width="0.6"/>
<text transform="translate(381.60 263.26) scale(0.85 1)" font-size="4.6" font-weight="bold" text-anchor="end" fill="#111">1000</text>
<line x1="381.80" y1="255.95" x2="384.30" y2="255.95" stroke="#111" stroke-width="0.6"/>
<text transform="translate(381.60 257.61) scale(0.85 1)" font-size="4.6" font-weight="bold" text-anchor="end" fill="#111">1500</text>
<line x1="381.80" y1="250.30" x2="384.30" y2="250.30" stroke="#111" stroke-width="0.6"/>
<text transform="translate(381.60 251.96) scale(0.85 1)" font-size="4.6" font-weight="bold" text-anchor="end" fill="#111">2000</text>
<line x1="381.80" y1="244.65" x2="384.30" y2="244.65" stroke="#111" stroke-width="0.6"/>
<text transform="translate(381.60 246.31) scale(0.85 1)" font-size="4.6" font-weight="bold" text-anchor="end" fill="#111">2500</text>
<line x1="381.80" y1="239.00" x2="384.30" y2="239.00" stroke="#111" stroke-width="0.6"/>
<text transform="translate(381.60 240.66) scale(0.85 1)" font-size="4.6" font-weight="bold" text-anchor="end" fill="#111">3000</text>
<line x1="381.80" y1="234.10" x2="384.30" y2="234.10" stroke="#111" stroke-width="0.6"/>
<text transform="translate(381.60 235.76) scale(0.85 1)" font-size="4.6" font-weight="bold" text-anchor="end" fill="#111">4500</text>
<line x1="381.80" y1="220.10" x2="384.30" y2="220.10" stroke="#111" stroke-width="0.6"/>
<text transform="translate(381.60 221.76) scale(0.85 1)" font-size="4.6" font-weight="bold" text-anchor="end" fill="#111">5500</text>
<line x1="381.80" y1="206.10" x2="384.30" y2="206.10" stroke="#111" stroke-width="0.6"/>
<text transform="translate(381.60 207.76) scale(0.85 1)" font-size="4.6" font-weight="bold" text-anchor="end" fill="#111">6500</text>
<rect x="385.30" y="270.40" width="2.55" height="2.30" fill="#4a4a4a" stroke="#111" stroke-width="0.55"/>
<rect x="388.40" y="263.40" width="2.55" height="9.30" fill="#1c1c1c" stroke="#111" stroke-width="0.55"/>
<rect x="389.17" y="270.65" width="1" height="0.9" fill="#ececec"/>
<rect x="389.17" y="268.65" width="1" height="0.9" fill="#ececec"/>
<rect x="389.17" y="266.65" width="1" height="0.9" fill="#ececec"/>
<rect x="389.17" y="264.65" width="1" height="0.9" fill="#ececec"/>
<rect x="391.50" y="264.00" width="2.55" height="8.70" fill="#767676" stroke="#111" stroke-width="0.55"/>
<rect x="394.60" y="260.70" width="2.55" height="12.00" fill="#8e8e8e" stroke="#111" stroke-width="0.55"/>
<rect x="400.63" y="269.70" width="2.55" height="3.00" fill="#4a4a4a" stroke="#111" stroke-width="0.55"/>
<rect x="403.73" y="262.80" width="2.55" height="9.90" fill="#1c1c1c" stroke="#111" stroke-width="0.55"/>
<rect x="404.50" y="270.65" width="1" height="0.9" fill="#ececec"/>
<rect x="404.50" y="268.65" width="1" height="0.9" fill="#ececec"/>
<rect x="404.50" y="266.65" width="1" height="0.9" fill="#ececec"/>
<rect x="404.50" y="264.65" width="1" height="0.9" fill="#ececec"/>
<rect x="406.83" y="263.40" width="2.55" height="9.30" fill="#767676" stroke="#111" stroke-width="0.55"/>
<rect x="409.93" y="252.90" width="2.55" height="19.80" fill="#8e8e8e" stroke="#111" stroke-width="0.55"/>
<path d="M411.20 252.90 V251.50 M410.50 251.50 H411.90" stroke="#111" stroke-width="0.5" fill="none"/>
<rect x="415.96" y="243.80" width="2.55" height="28.90" fill="#4a4a4a" stroke="#111" stroke-width="0.55"/>
<rect x="419.06" y="213.90" width="2.55" height="58.80" fill="#1c1c1c" stroke="#111" stroke-width="0.55"/>
<rect x="419.83" y="270.65" width="1" height="0.9" fill="#ececec"/>
<rect x="419.83" y="268.65" width="1" height="0.9" fill="#ececec"/>
<rect x="419.83" y="266.65" width="1" height="0.9" fill="#ececec"/>
<rect x="419.83" y="264.65" width="1" height="0.9" fill="#ececec"/>
<rect x="419.83" y="262.65" width="1" height="0.9" fill="#ececec"/>
<rect x="419.83" y="260.65" width="1" height="0.9" fill="#ececec"/>
<rect x="419.83" y="258.65" width="1" height="0.9" fill="#ececec"/>
<rect x="419.83" y="256.65" width="1" height="0.9" fill="#ececec"/>
<rect x="419.83" y="254.65" width="1" height="0.9" fill="#ececec"/>
<rect x="419.83" y="252.65" width="1" height="0.9" fill="#ececec"/>
<rect x="419.83" y="250.65" width="1" height="0.9" fill="#ececec"/>
<rect x="419.83" y="248.65" width="1" height="0.9" fill="#ececec"/>
<rect x="419.83" y="246.65" width="1" height="0.9" fill="#ececec"/>
<rect x="419.83" y="244.65" width="1" height="0.9" fill="#ececec"/>
<rect x="419.83" y="242.65" width="1" height="0.9" fill="#ececec"/>
<rect x="419.83" y="240.65" width="1" height="0.9" fill="#ececec"/>
<rect x="419.83" y="238.65" width="1" height="0.9" fill="#ececec"/>
<rect x="419.83" y="236.65" width="1" height="0.9" fill="#ececec"/>
<rect x="419.83" y="234.65" width="1" height="0.9" fill="#ececec"/>
<rect x="419.83" y="232.65" width="1" height="0.9" fill="#ececec"/>
<rect x="419.83" y="230.65" width="1" height="0.9" fill="#ececec"/>
<rect x="419.83" y="228.65" width="1" height="0.9" fill="#ececec"/>
<rect x="419.83" y="226.65" width="1" height="0.9" fill="#ececec"/>
<rect x="419.83" y="224.65" width="1" height="0.9" fill="#ececec"/>
<rect x="419.83" y="222.65" width="1" height="0.9" fill="#ececec"/>
<rect x="419.83" y="220.65" width="1" height="0.9" fill="#ececec"/>
<rect x="419.83" y="218.65" width="1" height="0.9" fill="#ececec"/>
<rect x="419.83" y="216.65" width="1" height="0.9" fill="#ececec"/>
<rect x="419.83" y="214.65" width="1" height="0.9" fill="#ececec"/>
<rect x="418.46" y="234.80" width="3.75" height="4.20" fill="#fff"/>
<path d="M420.33 213.90 V210.50 M419.63 210.50 H421.03" stroke="#111" stroke-width="0.5" fill="none"/>
<rect x="422.16" y="208.00" width="2.55" height="64.70" fill="#767676" stroke="#111" stroke-width="0.55"/>
<rect x="421.56" y="234.80" width="3.75" height="4.20" fill="#fff"/>
<path d="M423.44 208.00 V204.00 M422.74 204.00 H424.13" stroke="#111" stroke-width="0.5" fill="none"/>
<rect x="425.26" y="215.00" width="2.55" height="57.70" fill="#8e8e8e" stroke="#111" stroke-width="0.55"/>
<rect x="424.66" y="234.80" width="3.75" height="4.20" fill="#fff"/>
<path d="M426.54 215.00 V212.50 M425.84 212.50 H427.24" stroke="#111" stroke-width="0.5" fill="none"/>
<rect x="431.29" y="272.00" width="2.55" height="0.70" fill="#4a4a4a" stroke="#111" stroke-width="0.55"/>
<rect x="434.39" y="264.00" width="2.55" height="8.70" fill="#1c1c1c" stroke="#111" stroke-width="0.55"/>
<rect x="435.16" y="270.65" width="1" height="0.9" fill="#ececec"/>
<rect x="435.16" y="268.65" width="1" height="0.9" fill="#ececec"/>
<rect x="435.16" y="266.65" width="1" height="0.9" fill="#ececec"/>
<rect x="435.16" y="264.65" width="1" height="0.9" fill="#ececec"/>
<rect x="437.49" y="260.30" width="2.55" height="12.40" fill="#767676" stroke="#111" stroke-width="0.55"/>
<rect x="440.59" y="256.50" width="2.55" height="16.20" fill="#8e8e8e" stroke="#111" stroke-width="0.55"/>
<rect x="446.62" y="272.30" width="2.55" height="0.40" fill="#4a4a4a" stroke="#111" stroke-width="0.55"/>
<rect x="449.72" y="272.00" width="2.55" height="0.70" fill="#1c1c1c" stroke="#111" stroke-width="0.55"/>
<rect x="452.82" y="272.30" width="2.55" height="0.40" fill="#767676" stroke="#111" stroke-width="0.55"/>
<rect x="455.92" y="260.30" width="2.55" height="12.40" fill="#8e8e8e" stroke="#111" stroke-width="0.55"/>
<rect x="461.95" y="271.20" width="2.55" height="1.50" fill="#4a4a4a" stroke="#111" stroke-width="0.55"/>
<rect x="465.05" y="268.70" width="2.55" height="4.00" fill="#1c1c1c" stroke="#111" stroke-width="0.55"/>
<rect x="465.82" y="270.65" width="1" height="0.9" fill="#ececec"/>
<rect x="468.15" y="268.70" width="2.55" height="4.00" fill="#767676" stroke="#111" stroke-width="0.55"/>
<rect x="471.25" y="216.00" width="2.55" height="56.70" fill="#8e8e8e" stroke="#111" stroke-width="0.55"/>
<rect x="470.65" y="234.80" width="3.75" height="4.20" fill="#fff"/>
<path d="M472.52 216.00 V214.50 M471.82 214.50 H473.22" stroke="#111" stroke-width="0.5" fill="none"/>
<line x1="383.90" y1="272.70" x2="476.00" y2="272.70" stroke="#111" stroke-width="0.9"/>
<line x1="391.20" y1="272.70" x2="391.20" y2="274.50" stroke="#111" stroke-width="0.6"/>
<text transform="translate(389.80 278.00) rotate(45)" font-size="4.6" font-weight="bold" text-anchor="start" fill="#111">Perforin</text>
<line x1="406.53" y1="272.70" x2="406.53" y2="274.50" stroke="#111" stroke-width="0.6"/>
<text transform="translate(405.13 278.00) rotate(45)" font-size="4.6" font-weight="bold" text-anchor="start" fill="#111">Granzyme B</text>
<line x1="421.86" y1="272.70" x2="421.86" y2="274.50" stroke="#111" stroke-width="0.6"/>
<text transform="translate(420.46 278.00) rotate(45)" font-size="4.6" font-weight="bold" text-anchor="start" fill="#111">CD107a</text>
<line x1="437.19" y1="272.70" x2="437.19" y2="274.50" stroke="#111" stroke-width="0.6"/>
<text transform="translate(435.79 278.00) rotate(45)" font-size="4.6" font-weight="bold" text-anchor="start" fill="#111">FasL</text>
<line x1="452.52" y1="272.70" x2="452.52" y2="274.50" stroke="#111" stroke-width="0.6"/>
<text transform="translate(451.12 278.00) rotate(45)" font-size="4.6" font-weight="bold" text-anchor="start" fill="#111">TRAIL</text>
<line x1="467.85" y1="272.70" x2="467.85" y2="274.50" stroke="#111" stroke-width="0.6"/>
<text transform="translate(466.45 278.00) rotate(45)" font-size="4.6" font-weight="bold" text-anchor="start" fill="#111">TNFα</text>
<text transform="translate(390.50 258.26)" font-size="4.6" font-weight="bold" text-anchor="middle" fill="#111">*,#,&amp;</text>
<text transform="translate(405.70 251.66)" font-size="4.6" font-weight="bold" text-anchor="middle" fill="#111">*,#,&amp;</text>
<text transform="translate(438.20 253.46)" font-size="4.6" font-weight="bold" text-anchor="middle" fill="#111">*,#,&amp;</text>
<text transform="translate(454.00 258.76)" font-size="4.6" font-weight="bold" text-anchor="middle" fill="#111">*,#,&amp;</text>
<text transform="translate(468.20 213.46)" font-size="4.6" font-weight="bold" text-anchor="middle" fill="#111">*,#,&amp;</text>
<rect x="386.30" y="208.00" width="9.80" height="3.60" rx="0.6" fill="#161616"/>
<rect x="387.60" y="209.45" width="7.20" height="0.7" fill="#8a8a8a"/>
<text transform="translate(397.60 211.73)" font-size="4.4" font-weight="bold" text-anchor="start" fill="#111">B6 CD45.1</text>
<rect x="386.30" y="212.10" width="9.80" height="3.60" rx="0.6" fill="#161616"/>
<rect x="387.70" y="213.45" width="1.1" height="0.9" fill="#e0e0e0"/>
<rect x="389.90" y="213.45" width="1.1" height="0.9" fill="#e0e0e0"/>
<rect x="392.10" y="213.45" width="1.1" height="0.9" fill="#e0e0e0"/>
<rect x="394.30" y="213.45" width="1.1" height="0.9" fill="#e0e0e0"/>
<text transform="translate(397.60 215.83)" font-size="4.4" font-weight="bold" text-anchor="start" fill="#111">Bulk</text>
<rect x="386.30" y="216.20" width="9.80" height="3.60" rx="0.6" fill="#161616"/>
<rect x="387.30" y="217.20" width="7.80" height="1.6" rx="0.4" fill="#8c8c8c"/>
<text transform="translate(397.60 219.93)" font-size="4.4" font-weight="bold" text-anchor="start" fill="#111">CD62L+</text>
<rect x="386.30" y="220.20" width="9.80" height="3.60" rx="0.6" fill="#161616"/>
<rect x="387.40" y="221.55" width="1.2" height="0.9" fill="#d8d8d8"/>
<rect x="389.15" y="221.55" width="1.2" height="0.9" fill="#d8d8d8"/>
<rect x="390.90" y="221.55" width="1.2" height="0.9" fill="#d8d8d8"/>
<rect x="392.65" y="221.55" width="1.2" height="0.9" fill="#d8d8d8"/>
<rect x="394.40" y="221.55" width="1.2" height="0.9" fill="#d8d8d8"/>
<text transform="translate(397.60 223.93)" font-size="4.4" font-weight="bold" text-anchor="start" fill="#111">CD62L-</text>
<line x1="333.50" y1="308.20" x2="333.50" y2="338.00" stroke="#111" stroke-width="0.9"/>
<line x1="333.50" y1="342.60" x2="333.50" y2="377.70" stroke="#111" stroke-width="0.9"/>
<line x1="331.00" y1="377.70" x2="333.50" y2="377.70" stroke="#111" stroke-width="0.6"/>
<text transform="translate(330.20 379.36) scale(0.85 1)" font-size="4.6" font-weight="bold" text-anchor="end" fill="#111">0</text>
<line x1="331.00" y1="372.80" x2="333.50" y2="372.80" stroke="#111" stroke-width="0.6"/>
<text transform="translate(330.20 374.46) scale(0.85 1)" font-size="4.6" font-weight="bold" text-anchor="end" fill="#111">3000</text>
<line x1="331.00" y1="367.90" x2="333.50" y2="367.90" stroke="#111" stroke-width="0.6"/>
<text transform="translate(330.20 369.56) scale(0.85 1)" font-size="4.6" font-weight="bold" text-anchor="end" fill="#111">6000</text>
<line x1="331.00" y1="363.00" x2="333.50" y2="363.00" stroke="#111" stroke-width="0.6"/>
<text transform="translate(330.20 364.66) scale(0.85 1)" font-size="4.6" font-weight="bold" text-anchor="end" fill="#111">9000</text>
<line x1="331.00" y1="358.10" x2="333.50" y2="358.10" stroke="#111" stroke-width="0.6"/>
<text transform="translate(330.20 359.76) scale(0.85 1)" font-size="4.6" font-weight="bold" text-anchor="end" fill="#111">12000</text>
<line x1="331.00" y1="353.20" x2="333.50" y2="353.20" stroke="#111" stroke-width="0.6"/>
<text transform="translate(330.20 354.86) scale(0.85 1)" font-size="4.6" font-weight="bold" text-anchor="end" fill="#111">15000</text>
<line x1="331.00" y1="348.30" x2="333.50" y2="348.30" stroke="#111" stroke-width="0.6"/>
<text transform="translate(330.20 349.96) scale(0.85 1)" font-size="4.6" font-weight="bold" text-anchor="end" fill="#111">18000</text>
<line x1="331.00" y1="343.40" x2="333.50" y2="343.40" stroke="#111" stroke-width="0.6"/>
<text transform="translate(330.20 345.06) scale(0.85 1)" font-size="4.6" font-weight="bold" text-anchor="end" fill="#111">21000</text>
<line x1="331.00" y1="337.40" x2="333.50" y2="337.40" stroke="#111" stroke-width="0.6"/>
<text transform="translate(330.20 339.06) scale(0.85 1)" font-size="4.6" font-weight="bold" text-anchor="end" fill="#111">22000</text>
<line x1="331.00" y1="322.90" x2="333.50" y2="322.90" stroke="#111" stroke-width="0.6"/>
<text transform="translate(330.20 324.56) scale(0.85 1)" font-size="4.6" font-weight="bold" text-anchor="end" fill="#111">31000</text>
<line x1="331.00" y1="308.40" x2="333.50" y2="308.40" stroke="#111" stroke-width="0.6"/>
<text transform="translate(330.20 310.06) scale(0.85 1)" font-size="4.6" font-weight="bold" text-anchor="end" fill="#111">40000</text>
<rect x="338.87" y="369.50" width="2.55" height="7.80" fill="#1c1c1c" stroke="#111" stroke-width="0.55"/>
<rect x="339.64" y="375.25" width="1" height="0.9" fill="#ececec"/>
<rect x="339.64" y="373.25" width="1" height="0.9" fill="#ececec"/>
<rect x="339.64" y="371.25" width="1" height="0.9" fill="#ececec"/>
<rect x="342.37" y="372.10" width="2.65" height="5.20" fill="#767676" stroke="#111" stroke-width="0.55"/>
<rect x="345.77" y="373.80" width="2.85" height="3.50" fill="#8e8e8e" stroke="#111" stroke-width="0.55"/>
<rect x="355.87" y="368.10" width="2.65" height="9.20" fill="#1c1c1c" stroke="#111" stroke-width="0.55"/>
<rect x="356.69" y="375.25" width="1" height="0.9" fill="#ececec"/>
<rect x="356.69" y="373.25" width="1" height="0.9" fill="#ececec"/>
<rect x="356.69" y="371.25" width="1" height="0.9" fill="#ececec"/>
<rect x="356.69" y="369.25" width="1" height="0.9" fill="#ececec"/>
<rect x="359.47" y="371.20" width="2.65" height="6.10" fill="#767676" stroke="#111" stroke-width="0.55"/>
<rect x="363.27" y="371.20" width="2.75" height="6.10" fill="#8e8e8e" stroke="#111" stroke-width="0.55"/>
<rect x="369.87" y="376.70" width="2.75" height="0.60" fill="#4a4a4a" stroke="#111" stroke-width="0.55"/>
<rect x="373.47" y="355.10" width="2.55" height="22.20" fill="#1c1c1c" stroke="#111" stroke-width="0.55"/>
<rect x="374.24" y="375.25" width="1" height="0.9" fill="#ececec"/>
<rect x="374.24" y="373.25" width="1" height="0.9" fill="#ececec"/>
<rect x="374.24" y="371.25" width="1" height="0.9" fill="#ececec"/>
<rect x="374.24" y="369.25" width="1" height="0.9" fill="#ececec"/>
<rect x="374.24" y="367.25" width="1" height="0.9" fill="#ececec"/>
<rect x="374.24" y="365.25" width="1" height="0.9" fill="#ececec"/>
<rect x="374.24" y="363.25" width="1" height="0.9" fill="#ececec"/>
<rect x="374.24" y="361.25" width="1" height="0.9" fill="#ececec"/>
<rect x="374.24" y="359.25" width="1" height="0.9" fill="#ececec"/>
<rect x="374.24" y="357.25" width="1" height="0.9" fill="#ececec"/>
<rect x="376.87" y="362.10" width="2.85" height="15.20" fill="#767676" stroke="#111" stroke-width="0.55"/>
<path d="M378.30 362.10 V359.40 M377.60 359.40 H379.00" stroke="#111" stroke-width="0.5" fill="none"/>
<rect x="380.57" y="363.30" width="2.85" height="14.00" fill="#8e8e8e" stroke="#111" stroke-width="0.55"/>
<path d="M382.00 363.30 V355.10 M381.30 355.10 H382.69" stroke="#111" stroke-width="0.5" fill="none"/>
<rect x="390.27" y="355.10" width="3.05" height="22.20" fill="#1c1c1c" stroke="#111" stroke-width="0.55"/>
<rect x="391.29" y="375.25" width="1" height="0.9" fill="#ececec"/>
<rect x="391.29" y="373.25" width="1" height="0.9" fill="#ececec"/>
<rect x="391.29" y="371.25" width="1" height="0.9" fill="#ececec"/>
<rect x="391.29" y="369.25" width="1" height="0.9" fill="#ececec"/>
<rect x="391.29" y="367.25" width="1" height="0.9" fill="#ececec"/>
<rect x="391.29" y="365.25" width="1" height="0.9" fill="#ececec"/>
<rect x="391.29" y="363.25" width="1" height="0.9" fill="#ececec"/>
<rect x="391.29" y="361.25" width="1" height="0.9" fill="#ececec"/>
<rect x="391.29" y="359.25" width="1" height="0.9" fill="#ececec"/>
<rect x="391.29" y="357.25" width="1" height="0.9" fill="#ececec"/>
<path d="M391.79 355.10 V353.00 M391.09 353.00 H392.49" stroke="#111" stroke-width="0.5" fill="none"/>
<rect x="394.17" y="356.60" width="2.55" height="20.70" fill="#767676" stroke="#111" stroke-width="0.55"/>
<path d="M395.44 356.60 V354.00 M394.74 354.00 H396.14" stroke="#111" stroke-width="0.5" fill="none"/>
<rect x="397.67" y="368.00" width="2.85" height="9.30" fill="#8e8e8e" stroke="#111" stroke-width="0.55"/>
<path d="M399.09 368.00 V366.00 M398.39 366.00 H399.79" stroke="#111" stroke-width="0.5" fill="none"/>
<rect x="407.27" y="373.70" width="3.25" height="3.60" fill="#1c1c1c" stroke="#111" stroke-width="0.55"/>
<rect x="408.39" y="375.25" width="1" height="0.9" fill="#ececec"/>
<rect x="411.07" y="373.00" width="2.75" height="4.30" fill="#767676" stroke="#111" stroke-width="0.55"/>
<rect x="414.57" y="353.00" width="2.85" height="24.30" fill="#8e8e8e" stroke="#111" stroke-width="0.55"/>
<path d="M416.00 353.00 V346.20 M415.30 346.20 H416.69" stroke="#111" stroke-width="0.5" fill="none"/>
<rect x="424.27" y="367.50" width="3.05" height="9.80" fill="#1c1c1c" stroke="#111" stroke-width="0.55"/>
<rect x="425.29" y="375.25" width="1" height="0.9" fill="#ececec"/>
<rect x="425.29" y="373.25" width="1" height="0.9" fill="#ececec"/>
<rect x="425.29" y="371.25" width="1" height="0.9" fill="#ececec"/>
<rect x="425.29" y="369.25" width="1" height="0.9" fill="#ececec"/>
<rect x="427.87" y="366.80" width="3.05" height="10.50" fill="#767676" stroke="#111" stroke-width="0.55"/>
<rect x="431.87" y="325.40" width="2.75" height="51.90" fill="#8e8e8e" stroke="#111" stroke-width="0.55"/>
<rect x="431.27" y="338.20" width="3.95" height="4.60" fill="#fff"/>
<path d="M433.25 325.40 V313.20 M432.55 313.20 H433.94" stroke="#111" stroke-width="0.5" fill="none"/>
<line x1="333.10" y1="377.30" x2="436.80" y2="377.30" stroke="#111" stroke-width="0.9"/>
<line x1="341.70" y1="377.30" x2="341.70" y2="379.10" stroke="#111" stroke-width="0.6"/>
<text transform="translate(340.30 382.60) rotate(45)" font-size="4.6" font-weight="bold" text-anchor="start" fill="#111">Perforin</text>
<line x1="359.20" y1="377.30" x2="359.20" y2="379.10" stroke="#111" stroke-width="0.6"/>
<text transform="translate(357.80 382.60) rotate(45)" font-size="4.6" font-weight="bold" text-anchor="start" fill="#111">Granzyme B</text>
<line x1="376.30" y1="377.30" x2="376.30" y2="379.10" stroke="#111" stroke-width="0.6"/>
<text transform="translate(374.90 382.60) rotate(45)" font-size="4.6" font-weight="bold" text-anchor="start" fill="#111">CD107a</text>
<line x1="393.60" y1="377.30" x2="393.60" y2="379.10" stroke="#111" stroke-width="0.6"/>
<text transform="translate(392.20 382.60) rotate(45)" font-size="4.6" font-weight="bold" text-anchor="start" fill="#111">FasL</text>
<line x1="410.80" y1="377.30" x2="410.80" y2="379.10" stroke="#111" stroke-width="0.6"/>
<text transform="translate(409.40 382.60) rotate(45)" font-size="4.6" font-weight="bold" text-anchor="start" fill="#111">TRAIL</text>
<line x1="427.60" y1="377.30" x2="427.60" y2="379.10" stroke="#111" stroke-width="0.6"/>
<text transform="translate(426.20 382.60) rotate(45)" font-size="4.6" font-weight="bold" text-anchor="start" fill="#111">TNFα</text>
<text transform="translate(343.20 367.06)" font-size="4.6" font-weight="bold" text-anchor="middle" fill="#111">*,#</text>
<text transform="translate(361.40 368.26)" font-size="4.6" font-weight="bold" text-anchor="middle" fill="#111">*</text>
<text transform="translate(378.10 354.86)" font-size="4.6" font-weight="bold" text-anchor="middle" fill="#111">*</text>
<text transform="translate(394.70 350.06)" font-size="4.6" font-weight="bold" text-anchor="middle" fill="#111">*,#,&amp;</text>
<text transform="translate(410.80 344.26)" font-size="4.6" font-weight="bold" text-anchor="middle" fill="#111">*,#,&amp;</text>
<text transform="translate(428.60 311.26)" font-size="4.6" font-weight="bold" text-anchor="middle" fill="#111">*,#,&amp;</text>
<rect x="342.20" y="313.30" width="11.50" height="3.60" rx="0.6" fill="#161616"/>
<rect x="343.50" y="314.75" width="8.90" height="0.7" fill="#8a8a8a"/>
<text transform="translate(354.80 317.03)" font-size="4.4" font-weight="bold" text-anchor="start" fill="#111">B6 CD45.1</text>
<rect x="342.20" y="317.60" width="11.50" height="3.60" rx="0.6" fill="#161616"/>
<rect x="343.60" y="318.95" width="1.1" height="0.9" fill="#e0e0e0"/>
<rect x="345.80" y="318.95" width="1.1" height="0.9" fill="#e0e0e0"/>
<rect x="348.00" y="318.95" width="1.1" height="0.9" fill="#e0e0e0"/>
<rect x="350.20" y="318.95" width="1.1" height="0.9" fill="#e0e0e0"/>
<text transform="translate(354.80 321.33)" font-size="4.4" font-weight="bold" text-anchor="start" fill="#111">Bulk</text>
<rect x="342.20" y="323.00" width="11.50" height="3.60" rx="0.6" fill="#161616"/>
<rect x="343.20" y="324.00" width="9.50" height="1.6" rx="0.4" fill="#8c8c8c"/>
<text transform="translate(354.80 326.73)" font-size="4.4" font-weight="bold" text-anchor="start" fill="#111">CD62L+</text>
<rect x="342.20" y="327.20" width="11.50" height="3.60" rx="0.6" fill="#161616"/>
<rect x="343.30" y="328.55" width="1.2" height="0.9" fill="#d8d8d8"/>
<rect x="345.05" y="328.55" width="1.2" height="0.9" fill="#d8d8d8"/>
<rect x="346.80" y="328.55" width="1.2" height="0.9" fill="#d8d8d8"/>
<rect x="348.55" y="328.55" width="1.2" height="0.9" fill="#d8d8d8"/>
<rect x="350.30" y="328.55" width="1.2" height="0.9" fill="#d8d8d8"/>
<text transform="translate(354.80 330.93)" font-size="4.4" font-weight="bold" text-anchor="start" fill="#111">CD62L-</text>
</svg></body></html>
